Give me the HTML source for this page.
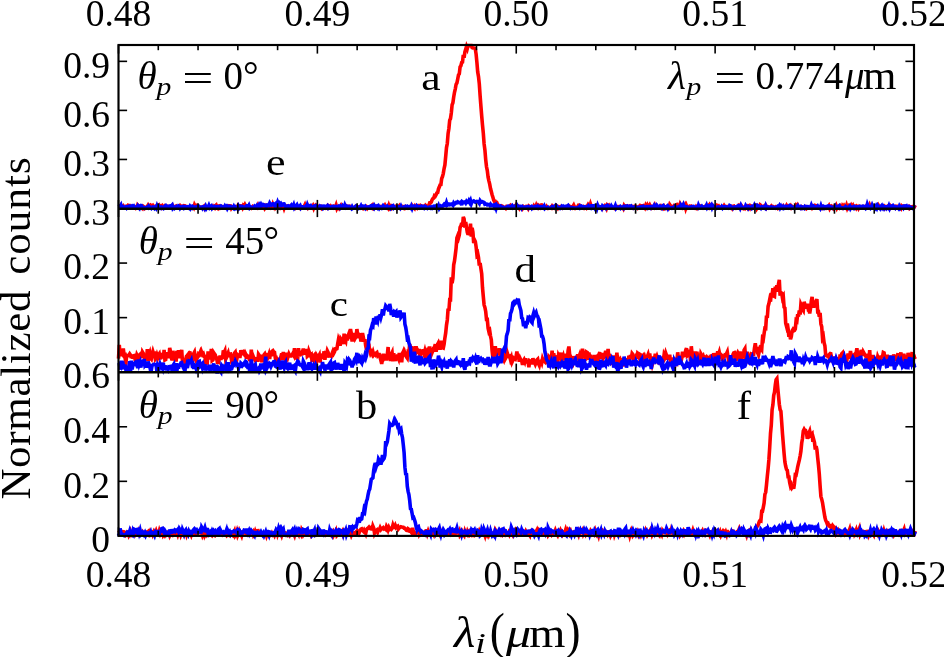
<!DOCTYPE html>
<html><head><meta charset="utf-8"><title>Normalized counts</title>
<style>html,body{margin:0;padding:0;background:#fff;overflow:hidden}svg{display:block}text{font-family:"Liberation Serif",serif;fill:#000}</style>
</head><body>
<svg width="944" height="657" viewBox="0 0 944 657">
<rect width="944" height="657" fill="#fff"/>
<g>
<polyline points="118.5,207.0 119.3,207.3 120.1,207.1 120.9,205.7 121.7,207.2 122.5,207.0 123.3,206.0 124.1,207.3 124.9,207.1 125.7,206.5 126.5,206.3 127.3,206.5 128.1,205.4 128.9,205.9 129.7,205.6 130.5,206.5 131.3,206.7 132.1,206.6 132.9,206.5 133.7,206.9 134.5,207.2 135.3,206.8 136.1,208.2 136.9,207.7 137.7,205.0 138.5,205.8 139.3,206.9 140.1,206.7 140.9,207.5 141.7,207.5 142.5,208.3 143.3,206.4 144.1,207.0 144.9,208.3 145.7,207.7 146.5,207.4 147.3,206.5 148.1,205.2 148.9,206.5 149.7,205.9 150.5,205.1 151.3,205.6 152.1,206.2 152.9,205.5 153.7,206.6 154.5,206.6 155.3,206.8 156.1,206.2 156.9,206.9 157.7,207.0 158.5,206.9 159.3,205.6 160.1,206.8 160.9,206.2 161.7,207.4 162.5,206.1 163.3,207.4 164.1,206.7 164.9,205.8 165.7,206.6 166.5,207.0 167.3,207.4 168.1,206.4 168.9,206.6 169.7,207.4 170.5,207.1 171.3,207.7 172.1,207.9 172.9,205.8 173.7,207.0 174.5,207.7 175.3,206.7 176.1,206.2 176.9,207.2 177.7,207.0 178.5,207.6 179.3,206.8 180.1,205.7 180.9,206.6 181.7,206.4 182.5,207.6 183.3,206.9 184.1,205.7 184.9,205.9 185.7,207.6 186.5,207.7 187.3,206.7 188.1,206.9 188.9,207.3 189.7,207.1 190.5,207.3 191.3,206.8 192.1,206.4 192.9,206.3 193.7,207.5 194.5,204.9 195.3,206.4 196.1,206.8 196.9,205.8 197.7,207.1 198.5,206.7 199.3,207.6 200.1,207.1 200.9,207.6 201.7,208.0 202.5,207.3 203.3,206.7 204.1,206.1 204.9,208.3 205.7,207.3 206.5,206.9 207.3,207.4 208.1,207.2 208.9,207.7 209.7,207.1 210.5,207.1 211.3,206.4 212.1,207.4 212.9,206.4 213.7,207.6 214.5,208.2 215.3,205.9 216.1,205.2 216.9,207.6 217.7,208.3 218.5,206.2 219.3,205.9 220.1,207.4 220.9,206.3 221.7,206.5 222.5,206.7 223.3,207.5 224.1,206.9 224.9,207.6 225.7,207.0 226.5,206.4 227.3,206.8 228.1,206.1 228.9,206.8 229.7,205.8 230.5,205.9 231.3,208.1 232.1,206.9 232.9,206.9 233.7,207.7 234.5,206.8 235.3,207.0 236.1,207.4 236.9,207.1 237.7,205.8 238.5,207.6 239.3,206.0 240.1,205.8 240.9,205.8 241.7,206.1 242.5,207.6 243.3,205.5 244.1,206.3 244.9,204.7 245.7,206.3 246.5,207.1 247.3,206.6 248.1,206.6 248.9,207.5 249.7,207.9 250.5,208.0 251.3,208.3 252.1,207.5 252.9,206.4 253.7,206.8 254.5,206.8 255.3,206.9 256.1,206.8 256.9,207.1 257.7,205.5 258.5,207.7 259.3,207.1 260.1,206.3 260.9,207.6 261.7,207.9 262.5,207.2 263.3,206.9 264.1,206.1 264.9,208.3 265.7,207.3 266.5,205.6 267.3,206.2 268.1,206.9 268.9,205.8 269.7,206.9 270.5,206.6 271.3,208.1 272.1,207.8 272.9,204.8 273.7,206.8 274.5,205.7 275.3,207.7 276.1,206.6 276.9,206.8 277.7,205.6 278.5,207.9 279.3,208.2 280.1,205.6 280.9,206.7 281.7,206.1 282.5,206.5 283.3,205.6 284.1,208.1 284.9,205.9 285.7,206.5 286.5,207.0 287.3,206.1 288.1,206.5 288.9,206.6 289.7,206.9 290.5,206.0 291.3,206.6 292.1,207.0 292.9,207.0 293.7,207.4 294.5,207.0 295.3,207.9 296.1,206.9 296.9,207.2 297.7,206.7 298.5,207.1 299.3,206.5 300.1,207.7 300.9,206.5 301.7,206.7 302.5,207.3 303.3,207.3 304.1,206.5 304.9,204.9 305.7,207.1 306.5,206.8 307.3,205.6 308.1,207.5 308.9,206.4 309.7,205.9 310.5,207.0 311.3,206.6 312.1,207.0 312.9,205.8 313.7,208.0 314.5,206.0 315.3,205.3 316.1,206.9 316.9,206.2 317.7,206.9 318.5,206.4 319.3,206.9 320.1,207.6 320.9,206.9 321.7,208.3 322.5,207.5 323.3,207.2 324.1,207.9 324.9,208.1 325.7,207.1 326.5,206.6 327.3,207.5 328.1,205.5 328.9,206.1 329.7,206.8 330.5,206.0 331.3,207.2 332.1,207.1 332.9,207.7 333.7,206.4 334.5,206.8 335.3,207.4 336.1,205.2 336.9,208.3 337.7,206.8 338.5,206.7 339.3,208.2 340.1,207.0 340.9,205.7 341.7,207.6 342.5,207.4 343.3,206.0 344.1,206.3 344.9,206.7 345.7,205.9 346.5,207.0 347.3,206.8 348.1,206.2 348.9,206.2 349.7,207.1 350.5,206.6 351.3,207.7 352.1,207.2 352.9,207.9 353.7,207.7 354.5,207.6 355.3,206.7 356.1,207.7 356.9,208.3 357.7,207.2 358.5,206.8 359.3,207.0 360.1,206.8 360.9,206.5 361.7,207.2 362.5,206.7 363.3,208.1 364.1,207.2 364.9,207.6 365.7,208.0 366.5,207.0 367.3,208.3 368.1,207.2 368.9,206.9 369.7,207.0 370.5,207.0 371.3,206.0 372.1,207.3 372.9,205.7 373.7,207.6 374.5,206.5 375.3,206.1 376.1,206.0 376.9,206.4 377.7,206.5 378.5,206.1 379.3,206.5 380.1,207.2 380.9,206.6 381.7,207.5 382.5,207.5 383.3,206.3 384.1,206.4 384.9,205.2 385.7,206.7 386.5,206.5 387.3,207.3 388.1,208.3 388.9,205.6 389.7,207.7 390.5,206.5 391.3,207.7 392.1,206.0 392.9,206.5 393.7,207.0 394.5,207.5 395.3,206.8 396.1,206.1 396.9,206.2 397.7,207.6 398.5,206.6 399.3,205.7 400.1,207.5 400.9,207.3 401.7,207.9 402.5,207.0 403.3,207.9 404.1,207.0 404.9,208.1 405.7,207.1 406.5,208.0 407.3,208.2 408.1,206.9 408.9,207.2 409.7,206.8 410.5,207.7 411.3,207.7 412.1,205.9 412.9,207.2 413.7,207.4 414.5,208.3 415.3,206.0 416.1,206.8 416.9,207.7 417.7,205.8 418.5,205.6 419.3,207.1 420.1,207.4 420.9,205.9 421.7,206.7 422.5,206.3 423.3,207.5 424.1,206.7 424.9,207.3 425.7,205.5 426.5,206.2 427.3,205.9 428.1,206.4 428.9,205.1 429.7,202.9 430.5,202.9 431.3,202.0 432.1,199.8 432.9,198.6 433.7,198.1 434.5,195.7 435.3,196.2 436.1,194.8 436.9,192.9 437.7,192.5 438.5,188.9 439.3,187.1 440.1,184.9 440.9,184.6 441.7,178.4 442.5,176.6 443.3,173.3 444.1,168.5 444.9,165.0 445.7,156.4 446.5,147.6 447.3,143.5 448.1,133.4 448.9,128.5 449.7,120.2 450.5,118.6 451.3,113.0 452.1,104.9 452.9,102.7 453.7,97.0 454.5,92.3 455.3,88.8 456.1,84.3 456.9,83.0 457.7,79.2 458.5,75.0 459.3,73.9 460.1,66.9 460.9,65.7 461.7,62.6 462.5,62.2 463.3,54.9 464.1,57.8 464.9,51.8 465.7,49.3 466.5,46.6 467.3,48.7 468.1,45.6 468.9,45.6 469.7,45.6 470.5,45.6 471.3,45.6 472.1,47.7 472.9,48.0 473.7,48.0 474.5,48.1 475.3,48.9 476.1,54.1 476.9,62.4 477.7,71.9 478.5,76.6 479.3,83.9 480.1,95.6 480.9,106.0 481.7,116.0 482.5,125.1 483.3,133.1 484.1,143.9 484.9,149.9 485.7,159.6 486.5,166.8 487.3,170.6 488.1,177.1 488.9,180.8 489.7,184.1 490.5,188.5 491.3,191.5 492.1,194.7 492.9,197.3 493.7,200.0 494.5,201.6 495.3,201.5 496.1,203.1 496.9,202.8 497.7,204.7 498.5,205.5 499.3,205.5 500.1,206.1 500.9,206.5 501.7,205.8 502.5,206.2 503.3,206.9 504.1,207.6 504.9,207.5 505.7,208.3 506.5,206.8 507.3,207.5 508.1,207.5 508.9,206.7 509.7,205.9 510.5,205.3 511.3,206.3 512.1,207.0 512.9,206.5 513.7,206.5 514.5,206.0 515.3,206.9 516.1,205.3 516.9,207.5 517.7,207.8 518.5,206.9 519.3,208.3 520.1,206.7 520.9,206.9 521.7,207.0 522.5,208.3 523.3,206.8 524.1,207.7 524.9,207.9 525.7,207.8 526.5,206.5 527.3,206.9 528.1,208.3 528.9,206.2 529.7,206.8 530.5,207.4 531.3,208.1 532.1,207.7 532.9,207.9 533.7,206.3 534.5,207.9 535.3,207.4 536.1,205.5 536.9,207.8 537.7,208.1 538.5,205.7 539.3,206.5 540.1,207.3 540.9,205.1 541.7,205.0 542.5,205.7 543.3,206.4 544.1,206.6 544.9,207.4 545.7,207.5 546.5,206.4 547.3,207.5 548.1,208.3 548.9,208.0 549.7,208.0 550.5,207.2 551.3,207.8 552.1,206.3 552.9,207.6 553.7,206.8 554.5,207.8 555.3,207.0 556.1,206.0 556.9,207.0 557.7,208.1 558.5,206.5 559.3,206.7 560.1,206.8 560.9,206.5 561.7,208.2 562.5,208.3 563.3,208.1 564.1,207.5 564.9,207.2 565.7,207.2 566.5,206.7 567.3,208.0 568.1,207.8 568.9,207.5 569.7,206.3 570.5,206.9 571.3,206.8 572.1,207.6 572.9,206.4 573.7,205.1 574.5,206.9 575.3,208.1 576.1,207.4 576.9,207.4 577.7,206.9 578.5,205.1 579.3,205.0 580.1,205.5 580.9,206.4 581.7,206.7 582.5,207.3 583.3,206.7 584.1,207.8 584.9,206.8 585.7,206.6 586.5,207.7 587.3,206.2 588.1,204.7 588.9,205.9 589.7,206.7 590.5,204.1 591.3,206.4 592.1,206.7 592.9,205.8 593.7,205.8 594.5,206.7 595.3,206.7 596.1,208.3 596.9,207.3 597.7,205.6 598.5,206.2 599.3,207.4 600.1,207.8 600.9,206.7 601.7,206.6 602.5,208.0 603.3,206.4 604.1,206.3 604.9,205.5 605.7,206.3 606.5,208.1 607.3,205.3 608.1,206.2 608.9,205.4 609.7,206.8 610.5,207.3 611.3,206.6 612.1,207.6 612.9,207.7 613.7,207.4 614.5,208.3 615.3,207.6 616.1,206.9 616.9,206.6 617.7,206.6 618.5,207.7 619.3,207.1 620.1,208.3 620.9,208.3 621.7,207.0 622.5,207.0 623.3,208.3 624.1,205.7 624.9,206.9 625.7,207.4 626.5,206.0 627.3,206.1 628.1,206.2 628.9,206.9 629.7,206.3 630.5,206.8 631.3,207.0 632.1,206.7 632.9,207.6 633.7,206.5 634.5,206.3 635.3,206.1 636.1,206.3 636.9,207.2 637.7,208.1 638.5,207.4 639.3,206.4 640.1,205.5 640.9,205.9 641.7,205.9 642.5,205.9 643.3,205.6 644.1,206.4 644.9,207.7 645.7,205.4 646.5,206.9 647.3,205.3 648.1,207.1 648.9,206.3 649.7,205.0 650.5,206.7 651.3,207.8 652.1,206.8 652.9,207.5 653.7,206.6 654.5,205.2 655.3,207.5 656.1,206.9 656.9,206.2 657.7,207.5 658.5,207.3 659.3,206.7 660.1,207.6 660.9,206.4 661.7,207.7 662.5,206.8 663.3,208.0 664.1,206.7 664.9,208.3 665.7,207.8 666.5,208.2 667.3,206.3 668.1,206.3 668.9,207.3 669.7,204.6 670.5,205.8 671.3,207.2 672.1,206.9 672.9,207.2 673.7,206.1 674.5,206.9 675.3,205.7 676.1,204.9 676.9,204.5 677.7,205.5 678.5,205.9 679.3,206.3 680.1,204.0 680.9,205.5 681.7,207.0 682.5,208.0 683.3,207.4 684.1,206.8 684.9,205.3 685.7,208.3 686.5,205.9 687.3,208.0 688.1,207.4 688.9,206.5 689.7,206.1 690.5,206.8 691.3,206.3 692.1,207.4 692.9,207.1 693.7,207.7 694.5,208.2 695.3,208.3 696.1,206.8 696.9,207.9 697.7,206.5 698.5,206.3 699.3,206.5 700.1,206.2 700.9,207.7 701.7,207.8 702.5,208.1 703.3,207.0 704.1,207.3 704.9,206.7 705.7,206.0 706.5,207.3 707.3,207.0 708.1,205.9 708.9,207.1 709.7,205.3 710.5,206.8 711.3,206.5 712.1,206.4 712.9,205.9 713.7,207.3 714.5,207.0 715.3,207.6 716.1,206.4 716.9,205.4 717.7,206.2 718.5,205.8 719.3,207.2 720.1,207.8 720.9,207.2 721.7,206.5 722.5,206.7 723.3,206.9 724.1,205.6 724.9,206.8 725.7,207.1 726.5,206.6 727.3,206.6 728.1,206.8 728.9,206.5 729.7,206.3 730.5,207.6 731.3,206.9 732.1,208.2 732.9,206.3 733.7,206.1 734.5,208.2 735.3,208.3 736.1,206.9 736.9,206.6 737.7,207.3 738.5,205.9 739.3,206.9 740.1,205.7 740.9,207.3 741.7,206.1 742.5,207.3 743.3,208.3 744.1,207.5 744.9,208.3 745.7,207.0 746.5,206.8 747.3,206.2 748.1,208.0 748.9,206.9 749.7,208.0 750.5,205.7 751.3,206.2 752.1,206.5 752.9,207.6 753.7,208.0 754.5,206.3 755.3,206.0 756.1,205.6 756.9,208.3 757.7,207.0 758.5,206.4 759.3,206.8 760.1,204.9 760.9,205.5 761.7,207.4 762.5,207.0 763.3,206.8 764.1,206.1 764.9,207.6 765.7,208.3 766.5,206.3 767.3,207.4 768.1,207.0 768.9,207.8 769.7,207.2 770.5,206.9 771.3,206.0 772.1,207.1 772.9,206.7 773.7,207.3 774.5,207.2 775.3,207.8 776.1,206.9 776.9,207.4 777.7,208.2 778.5,207.2 779.3,207.0 780.1,207.7 780.9,207.4 781.7,207.1 782.5,207.0 783.3,206.0 784.1,207.0 784.9,207.5 785.7,207.2 786.5,205.6 787.3,207.1 788.1,206.1 788.9,206.6 789.7,206.7 790.5,205.8 791.3,207.5 792.1,206.4 792.9,206.9 793.7,207.0 794.5,207.5 795.3,207.5 796.1,205.5 796.9,206.7 797.7,205.3 798.5,206.8 799.3,207.5 800.1,207.6 800.9,208.1 801.7,206.9 802.5,207.6 803.3,207.3 804.1,207.9 804.9,208.3 805.7,207.2 806.5,208.3 807.3,207.4 808.1,207.1 808.9,207.6 809.7,207.9 810.5,207.5 811.3,206.3 812.1,207.8 812.9,206.6 813.7,207.8 814.5,207.6 815.3,205.5 816.1,205.7 816.9,206.0 817.7,207.2 818.5,207.3 819.3,207.7 820.1,207.1 820.9,208.1 821.7,208.3 822.5,206.6 823.3,207.2 824.1,207.3 824.9,206.7 825.7,206.7 826.5,208.1 827.3,207.6 828.1,207.3 828.9,206.0 829.7,208.3 830.5,206.8 831.3,206.1 832.1,206.6 832.9,206.5 833.7,208.3 834.5,207.4 835.3,207.1 836.1,205.6 836.9,207.9 837.7,206.3 838.5,206.7 839.3,207.7 840.1,206.4 840.9,207.9 841.7,208.2 842.5,205.8 843.3,206.8 844.1,205.5 844.9,206.7 845.7,207.6 846.5,205.4 847.3,208.0 848.1,206.3 848.9,205.5 849.7,206.5 850.5,207.1 851.3,205.4 852.1,206.8 852.9,205.6 853.7,207.7 854.5,207.3 855.3,206.7 856.1,208.0 856.9,206.2 857.7,206.7 858.5,208.3 859.3,206.8 860.1,207.6 860.9,206.9 861.7,206.5 862.5,206.6 863.3,207.1 864.1,206.9 864.9,206.6 865.7,206.7 866.5,205.8 867.3,206.8 868.1,207.2 868.9,207.4 869.7,205.2 870.5,207.2 871.3,206.6 872.1,205.7 872.9,207.3 873.7,207.9 874.5,207.8 875.3,208.0 876.1,208.1 876.9,208.0 877.7,207.4 878.5,205.4 879.3,206.6 880.1,207.6 880.9,206.9 881.7,207.9 882.5,208.0 883.3,207.3 884.1,208.3 884.9,206.7 885.7,207.7 886.5,206.7 887.3,206.3 888.1,207.5 888.9,206.5 889.7,207.7 890.5,206.0 891.3,206.9 892.1,206.2 892.9,206.8 893.7,206.7 894.5,206.4 895.3,207.5 896.1,206.2 896.9,206.2 897.7,207.9 898.5,207.8 899.3,207.7 900.1,207.3 900.9,208.3 901.7,205.8 902.5,206.5 903.3,206.2 904.1,207.5 904.9,206.9 905.7,207.6 906.5,207.5 907.3,207.0 908.1,206.5 908.9,206.3 909.7,208.3 910.5,207.7 911.3,207.3 912.1,206.6 912.9,206.5 913.7,206.4 914.5,206.6 915.3,205.1" fill="none" stroke="#ff0000" stroke-width="3.6" stroke-linejoin="miter" stroke-miterlimit="4" stroke-linecap="butt"/>
<polyline points="118.5,206.8 119.3,206.3 120.1,206.6 120.9,205.2 121.7,208.3 122.5,208.3 123.3,207.1 124.1,208.0 124.9,207.7 125.7,207.0 126.5,208.0 127.3,206.7 128.1,206.6 128.9,206.2 129.7,206.9 130.5,206.4 131.3,206.8 132.1,206.0 132.9,206.8 133.7,206.1 134.5,207.5 135.3,207.3 136.1,207.6 136.9,207.5 137.7,206.0 138.5,207.4 139.3,208.3 140.1,205.8 140.9,205.5 141.7,205.8 142.5,208.0 143.3,207.8 144.1,208.3 144.9,207.7 145.7,207.4 146.5,207.3 147.3,206.9 148.1,207.6 148.9,206.1 149.7,206.9 150.5,207.6 151.3,208.3 152.1,207.2 152.9,206.9 153.7,207.1 154.5,208.3 155.3,207.3 156.1,208.3 156.9,206.0 157.7,208.2 158.5,208.3 159.3,206.6 160.1,207.6 160.9,208.2 161.7,207.2 162.5,207.7 163.3,208.3 164.1,206.8 164.9,206.3 165.7,205.7 166.5,206.9 167.3,206.3 168.1,206.4 168.9,206.5 169.7,207.1 170.5,205.9 171.3,205.9 172.1,205.1 172.9,208.2 173.7,207.3 174.5,208.3 175.3,207.4 176.1,206.8 176.9,207.7 177.7,207.2 178.5,205.9 179.3,206.3 180.1,208.1 180.9,207.0 181.7,207.1 182.5,206.6 183.3,206.5 184.1,208.0 184.9,207.2 185.7,206.8 186.5,207.1 187.3,206.8 188.1,207.3 188.9,208.0 189.7,206.6 190.5,208.3 191.3,207.0 192.1,207.8 192.9,206.6 193.7,207.2 194.5,207.3 195.3,206.9 196.1,206.8 196.9,206.6 197.7,206.5 198.5,206.0 199.3,206.9 200.1,207.5 200.9,207.5 201.7,207.1 202.5,208.3 203.3,206.9 204.1,206.6 204.9,208.3 205.7,206.4 206.5,208.2 207.3,206.9 208.1,207.4 208.9,205.5 209.7,207.6 210.5,206.7 211.3,206.0 212.1,208.1 212.9,207.1 213.7,206.9 214.5,206.4 215.3,206.9 216.1,206.7 216.9,207.4 217.7,207.3 218.5,206.5 219.3,206.7 220.1,206.6 220.9,206.0 221.7,206.7 222.5,206.9 223.3,207.4 224.1,207.7 224.9,206.1 225.7,207.3 226.5,206.5 227.3,208.3 228.1,206.8 228.9,207.5 229.7,206.3 230.5,206.5 231.3,207.3 232.1,207.1 232.9,207.9 233.7,206.5 234.5,208.2 235.3,207.2 236.1,208.3 236.9,207.6 237.7,208.3 238.5,206.1 239.3,207.5 240.1,206.2 240.9,206.5 241.7,206.8 242.5,206.5 243.3,207.0 244.1,207.4 244.9,207.5 245.7,206.9 246.5,205.9 247.3,206.2 248.1,206.8 248.9,205.4 249.7,207.7 250.5,206.8 251.3,207.2 252.1,208.0 252.9,207.8 253.7,207.0 254.5,206.2 255.3,207.2 256.1,207.1 256.9,205.8 257.7,207.1 258.5,206.4 259.3,204.7 260.1,205.9 260.9,204.4 261.7,206.1 262.5,205.8 263.3,204.6 264.1,205.0 264.9,205.6 265.7,205.3 266.5,206.7 267.3,205.8 268.1,205.0 268.9,205.4 269.7,203.3 270.5,204.7 271.3,205.0 272.1,204.0 272.9,203.8 273.7,204.8 274.5,205.6 275.3,203.9 276.1,203.2 276.9,204.9 277.7,202.3 278.5,204.2 279.3,203.2 280.1,204.8 280.9,203.8 281.7,205.4 282.5,205.0 283.3,204.0 284.1,203.9 284.9,205.5 285.7,206.9 286.5,206.2 287.3,206.3 288.1,205.9 288.9,206.4 289.7,206.3 290.5,206.1 291.3,205.2 292.1,206.8 292.9,206.9 293.7,205.0 294.5,207.9 295.3,206.9 296.1,205.9 296.9,204.9 297.7,207.0 298.5,207.0 299.3,206.4 300.1,205.6 300.9,207.8 301.7,206.7 302.5,206.7 303.3,208.3 304.1,208.3 304.9,207.5 305.7,206.4 306.5,207.2 307.3,204.8 308.1,206.8 308.9,206.2 309.7,205.9 310.5,205.6 311.3,207.3 312.1,206.7 312.9,206.8 313.7,207.2 314.5,205.8 315.3,205.7 316.1,205.5 316.9,206.4 317.7,207.4 318.5,207.1 319.3,207.5 320.1,206.1 320.9,206.7 321.7,206.3 322.5,206.2 323.3,208.3 324.1,207.7 324.9,206.3 325.7,206.5 326.5,207.2 327.3,206.1 328.1,207.6 328.9,206.3 329.7,207.0 330.5,207.1 331.3,207.4 332.1,206.5 332.9,206.4 333.7,206.5 334.5,206.6 335.3,206.6 336.1,206.5 336.9,207.8 337.7,207.5 338.5,206.6 339.3,207.7 340.1,206.5 340.9,208.1 341.7,207.5 342.5,206.1 343.3,207.6 344.1,207.9 344.9,205.2 345.7,207.0 346.5,207.5 347.3,206.3 348.1,206.6 348.9,206.5 349.7,207.7 350.5,207.4 351.3,208.3 352.1,206.8 352.9,208.2 353.7,207.7 354.5,207.8 355.3,206.7 356.1,206.0 356.9,206.7 357.7,207.6 358.5,208.2 359.3,207.2 360.1,207.4 360.9,206.0 361.7,208.0 362.5,207.8 363.3,206.5 364.1,207.0 364.9,206.4 365.7,208.3 366.5,207.5 367.3,207.0 368.1,207.1 368.9,207.3 369.7,206.6 370.5,206.1 371.3,205.8 372.1,205.5 372.9,207.6 373.7,208.3 374.5,206.0 375.3,207.3 376.1,207.1 376.9,206.3 377.7,207.6 378.5,206.4 379.3,208.1 380.1,206.9 380.9,207.3 381.7,208.1 382.5,207.0 383.3,205.6 384.1,206.3 384.9,207.2 385.7,206.8 386.5,207.5 387.3,206.4 388.1,207.5 388.9,207.8 389.7,207.2 390.5,208.3 391.3,206.9 392.1,206.1 392.9,205.7 393.7,207.9 394.5,207.1 395.3,207.9 396.1,207.6 396.9,208.1 397.7,208.1 398.5,206.8 399.3,207.1 400.1,208.1 400.9,206.4 401.7,208.3 402.5,208.3 403.3,208.2 404.1,207.2 404.9,207.7 405.7,206.6 406.5,207.3 407.3,206.5 408.1,207.2 408.9,206.7 409.7,207.5 410.5,208.1 411.3,206.2 412.1,208.3 412.9,206.2 413.7,206.0 414.5,207.5 415.3,207.2 416.1,207.5 416.9,205.8 417.7,206.6 418.5,206.7 419.3,207.6 420.1,206.7 420.9,207.4 421.7,206.2 422.5,206.6 423.3,206.6 424.1,207.7 424.9,206.3 425.7,206.6 426.5,207.6 427.3,208.3 428.1,207.4 428.9,207.3 429.7,207.0 430.5,207.9 431.3,207.2 432.1,208.1 432.9,207.2 433.7,206.2 434.5,206.4 435.3,206.1 436.1,206.0 436.9,207.9 437.7,207.6 438.5,205.8 439.3,208.3 440.1,207.1 440.9,206.0 441.7,206.6 442.5,206.4 443.3,205.3 444.1,204.3 444.9,205.3 445.7,205.4 446.5,202.8 447.3,205.3 448.1,204.8 448.9,204.2 449.7,204.8 450.5,204.6 451.3,204.0 452.1,204.4 452.9,205.2 453.7,203.1 454.5,204.2 455.3,203.5 456.1,202.5 456.9,202.7 457.7,201.8 458.5,202.2 459.3,202.8 460.1,203.0 460.9,202.2 461.7,205.2 462.5,201.9 463.3,202.4 464.1,202.1 464.9,201.9 465.7,203.0 466.5,201.4 467.3,202.4 468.1,202.4 468.9,200.7 469.7,202.3 470.5,200.6 471.3,203.6 472.1,201.4 472.9,201.3 473.7,200.9 474.5,201.6 475.3,202.1 476.1,201.7 476.9,201.4 477.7,201.7 478.5,202.3 479.3,203.4 480.1,200.7 480.9,201.8 481.7,202.0 482.5,201.7 483.3,202.2 484.1,202.5 484.9,204.3 485.7,204.1 486.5,204.1 487.3,204.9 488.1,204.6 488.9,204.6 489.7,205.4 490.5,204.3 491.3,205.6 492.1,205.7 492.9,205.2 493.7,205.0 494.5,207.1 495.3,205.9 496.1,208.3 496.9,205.6 497.7,206.9 498.5,206.1 499.3,206.8 500.1,207.4 500.9,206.3 501.7,206.9 502.5,207.1 503.3,207.3 504.1,207.5 504.9,207.8 505.7,207.6 506.5,207.3 507.3,206.8 508.1,206.2 508.9,206.3 509.7,206.5 510.5,207.4 511.3,206.5 512.1,205.7 512.9,207.2 513.7,206.1 514.5,206.2 515.3,206.8 516.1,207.4 516.9,205.1 517.7,206.3 518.5,207.1 519.3,206.6 520.1,206.4 520.9,206.5 521.7,208.2 522.5,206.9 523.3,207.8 524.1,207.9 524.9,207.2 525.7,207.6 526.5,207.0 527.3,206.7 528.1,206.5 528.9,208.0 529.7,207.2 530.5,207.0 531.3,206.5 532.1,208.3 532.9,207.5 533.7,207.1 534.5,206.7 535.3,206.4 536.1,207.9 536.9,207.9 537.7,206.7 538.5,208.3 539.3,208.2 540.1,206.7 540.9,206.8 541.7,206.7 542.5,207.3 543.3,207.2 544.1,206.0 544.9,208.3 545.7,207.6 546.5,208.3 547.3,208.3 548.1,207.4 548.9,208.2 549.7,208.3 550.5,208.2 551.3,207.6 552.1,206.7 552.9,207.2 553.7,206.8 554.5,206.7 555.3,205.8 556.1,207.4 556.9,206.4 557.7,207.3 558.5,207.4 559.3,207.6 560.1,208.3 560.9,207.6 561.7,206.5 562.5,207.5 563.3,206.5 564.1,207.3 564.9,206.5 565.7,206.3 566.5,206.4 567.3,206.2 568.1,205.5 568.9,206.9 569.7,207.3 570.5,208.2 571.3,207.5 572.1,207.5 572.9,208.0 573.7,207.9 574.5,208.3 575.3,208.3 576.1,208.0 576.9,208.3 577.7,208.3 578.5,207.4 579.3,208.0 580.1,206.3 580.9,207.0 581.7,206.3 582.5,206.8 583.3,206.8 584.1,207.1 584.9,206.8 585.7,207.2 586.5,207.2 587.3,206.9 588.1,206.0 588.9,208.0 589.7,208.2 590.5,206.7 591.3,207.5 592.1,205.7 592.9,205.7 593.7,206.8 594.5,208.0 595.3,206.0 596.1,206.4 596.9,208.3 597.7,205.5 598.5,207.4 599.3,207.2 600.1,206.7 600.9,207.0 601.7,208.3 602.5,206.0 603.3,206.8 604.1,207.0 604.9,206.5 605.7,206.1 606.5,208.2 607.3,207.3 608.1,205.7 608.9,206.5 609.7,207.4 610.5,207.4 611.3,205.9 612.1,207.2 612.9,207.3 613.7,207.6 614.5,207.4 615.3,205.6 616.1,208.3 616.9,207.3 617.7,208.3 618.5,208.3 619.3,207.1 620.1,206.6 620.9,208.3 621.7,207.8 622.5,207.4 623.3,206.8 624.1,208.3 624.9,207.5 625.7,206.4 626.5,206.6 627.3,206.1 628.1,207.2 628.9,206.8 629.7,206.3 630.5,207.3 631.3,206.4 632.1,207.7 632.9,208.1 633.7,207.0 634.5,206.8 635.3,207.2 636.1,208.1 636.9,207.5 637.7,207.6 638.5,207.2 639.3,207.2 640.1,207.4 640.9,206.6 641.7,206.5 642.5,206.9 643.3,206.3 644.1,207.1 644.9,207.6 645.7,207.1 646.5,206.6 647.3,206.7 648.1,208.3 648.9,208.0 649.7,206.5 650.5,206.5 651.3,208.3 652.1,208.1 652.9,206.9 653.7,207.3 654.5,205.4 655.3,206.5 656.1,207.2 656.9,205.4 657.7,206.3 658.5,207.5 659.3,207.8 660.1,206.4 660.9,207.2 661.7,208.0 662.5,206.1 663.3,205.5 664.1,206.5 664.9,206.6 665.7,207.9 666.5,207.1 667.3,206.3 668.1,208.3 668.9,206.9 669.7,207.7 670.5,208.0 671.3,208.3 672.1,207.7 672.9,208.2 673.7,207.7 674.5,206.6 675.3,207.5 676.1,207.4 676.9,207.3 677.7,207.5 678.5,207.0 679.3,208.3 680.1,208.3 680.9,205.4 681.7,206.7 682.5,206.0 683.3,204.5 684.1,206.9 684.9,206.4 685.7,206.6 686.5,206.7 687.3,208.2 688.1,208.2 688.9,207.5 689.7,207.7 690.5,206.9 691.3,207.1 692.1,206.6 692.9,207.2 693.7,206.6 694.5,207.5 695.3,207.7 696.1,207.3 696.9,208.1 697.7,208.3 698.5,205.4 699.3,207.3 700.1,206.7 700.9,206.9 701.7,206.2 702.5,207.3 703.3,207.3 704.1,207.1 704.9,207.3 705.7,207.0 706.5,205.3 707.3,207.7 708.1,206.7 708.9,206.1 709.7,206.7 710.5,205.8 711.3,204.9 712.1,207.4 712.9,205.6 713.7,206.4 714.5,206.8 715.3,208.0 716.1,208.3 716.9,207.4 717.7,207.0 718.5,206.9 719.3,208.3 720.1,208.3 720.9,208.0 721.7,206.7 722.5,208.0 723.3,206.8 724.1,206.8 724.9,206.6 725.7,207.2 726.5,207.0 727.3,207.7 728.1,208.1 728.9,207.5 729.7,205.6 730.5,206.1 731.3,207.6 732.1,207.4 732.9,208.3 733.7,207.1 734.5,207.0 735.3,207.9 736.1,208.0 736.9,206.8 737.7,207.2 738.5,205.9 739.3,206.3 740.1,208.0 740.9,205.7 741.7,207.5 742.5,207.6 743.3,207.8 744.1,208.0 744.9,207.6 745.7,205.6 746.5,206.8 747.3,207.1 748.1,208.3 748.9,206.8 749.7,207.4 750.5,207.6 751.3,208.3 752.1,206.2 752.9,206.0 753.7,207.0 754.5,205.1 755.3,206.6 756.1,206.1 756.9,205.4 757.7,206.4 758.5,206.1 759.3,207.3 760.1,207.3 760.9,208.2 761.7,206.9 762.5,207.4 763.3,207.0 764.1,207.7 764.9,208.2 765.7,205.9 766.5,207.9 767.3,206.8 768.1,207.1 768.9,207.3 769.7,207.6 770.5,207.3 771.3,206.8 772.1,207.3 772.9,207.5 773.7,207.2 774.5,207.7 775.3,208.1 776.1,207.5 776.9,207.7 777.7,206.5 778.5,207.1 779.3,205.8 780.1,207.8 780.9,206.4 781.7,208.1 782.5,208.3 783.3,206.8 784.1,208.1 784.9,207.4 785.7,206.4 786.5,206.4 787.3,207.2 788.1,207.8 788.9,206.7 789.7,205.5 790.5,205.9 791.3,206.5 792.1,207.8 792.9,207.3 793.7,207.3 794.5,208.3 795.3,207.1 796.1,207.0 796.9,206.9 797.7,205.9 798.5,207.6 799.3,207.6 800.1,208.1 800.9,206.4 801.7,206.7 802.5,208.2 803.3,207.7 804.1,208.3 804.9,206.7 805.7,207.4 806.5,206.8 807.3,207.6 808.1,206.8 808.9,207.3 809.7,207.6 810.5,207.4 811.3,205.3 812.1,207.4 812.9,207.1 813.7,206.1 814.5,206.5 815.3,207.1 816.1,207.7 816.9,207.1 817.7,206.1 818.5,207.4 819.3,207.1 820.1,208.3 820.9,205.9 821.7,208.3 822.5,208.2 823.3,207.0 824.1,208.1 824.9,207.1 825.7,207.7 826.5,206.7 827.3,207.0 828.1,206.1 828.9,206.1 829.7,207.1 830.5,206.8 831.3,207.9 832.1,208.3 832.9,207.4 833.7,207.7 834.5,207.7 835.3,206.2 836.1,207.6 836.9,207.4 837.7,207.3 838.5,206.3 839.3,205.7 840.1,207.0 840.9,207.5 841.7,208.1 842.5,207.9 843.3,208.3 844.1,207.6 844.9,207.8 845.7,206.6 846.5,207.2 847.3,207.8 848.1,208.3 848.9,207.0 849.7,206.1 850.5,208.3 851.3,207.0 852.1,207.5 852.9,207.2 853.7,206.7 854.5,208.3 855.3,207.8 856.1,207.0 856.9,207.4 857.7,207.0 858.5,207.8 859.3,206.7 860.1,206.3 860.9,206.6 861.7,206.7 862.5,207.2 863.3,206.2 864.1,206.6 864.9,207.3 865.7,208.3 866.5,207.3 867.3,204.3 868.1,206.4 868.9,206.5 869.7,207.1 870.5,208.1 871.3,207.2 872.1,205.2 872.9,207.1 873.7,207.0 874.5,207.0 875.3,208.0 876.1,206.3 876.9,208.0 877.7,205.9 878.5,207.2 879.3,207.1 880.1,208.3 880.9,206.5 881.7,205.6 882.5,207.7 883.3,206.6 884.1,208.2 884.9,206.8 885.7,206.8 886.5,208.3 887.3,207.3 888.1,208.0 888.9,206.0 889.7,208.3 890.5,206.6 891.3,207.3 892.1,206.0 892.9,205.5 893.7,206.5 894.5,207.3 895.3,208.2 896.1,207.1 896.9,207.7 897.7,207.3 898.5,208.3 899.3,206.3 900.1,207.9 900.9,206.7 901.7,207.2 902.5,206.7 903.3,207.9 904.1,206.1 904.9,205.9 905.7,206.6 906.5,206.0 907.3,207.5 908.1,207.8 908.9,206.8 909.7,207.8 910.5,207.1 911.3,207.5 912.1,207.7 912.9,208.3 913.7,207.5 914.5,207.0 915.3,207.2" fill="none" stroke="#0000ff" stroke-width="3.6" stroke-linejoin="miter" stroke-miterlimit="4" stroke-linecap="butt"/>
<polyline points="118.5,358.7 119.3,344.8 120.1,356.1 120.9,353.1 121.7,352.9 122.5,354.1 123.3,348.4 124.1,355.2 124.9,352.6 125.7,365.8 126.5,357.3 127.3,355.6 128.1,355.6 128.9,355.2 129.7,353.8 130.5,355.0 131.3,358.1 132.1,354.9 132.9,358.7 133.7,355.7 134.5,355.5 135.3,361.0 136.1,358.8 136.9,354.8 137.7,356.3 138.5,358.1 139.3,360.8 140.1,354.4 140.9,353.6 141.7,357.7 142.5,352.0 143.3,353.3 144.1,357.5 144.9,358.5 145.7,357.8 146.5,360.3 147.3,349.1 148.1,360.9 148.9,354.9 149.7,352.9 150.5,358.2 151.3,359.1 152.1,354.6 152.9,351.5 153.7,354.1 154.5,353.7 155.3,358.7 156.1,357.4 156.9,354.9 157.7,357.5 158.5,354.8 159.3,353.7 160.1,357.9 160.9,357.8 161.7,354.7 162.5,354.2 163.3,358.5 164.1,350.0 164.9,359.9 165.7,359.5 166.5,352.1 167.3,356.9 168.1,353.4 168.9,358.1 169.7,347.9 170.5,351.6 171.3,357.9 172.1,360.3 172.9,350.9 173.7,354.8 174.5,357.5 175.3,355.1 176.1,361.6 176.9,351.0 177.7,355.0 178.5,350.2 179.3,358.2 180.1,354.2 180.9,354.0 181.7,349.8 182.5,362.4 183.3,360.0 184.1,360.1 184.9,362.1 185.7,359.3 186.5,356.2 187.3,355.4 188.1,354.4 188.9,361.1 189.7,351.5 190.5,354.2 191.3,355.9 192.1,357.0 192.9,358.4 193.7,353.6 194.5,352.1 195.3,357.0 196.1,359.9 196.9,358.6 197.7,357.1 198.5,354.1 199.3,354.8 200.1,352.7 200.9,356.3 201.7,352.3 202.5,354.5 203.3,353.7 204.1,356.3 204.9,356.4 205.7,364.9 206.5,361.6 207.3,362.1 208.1,351.5 208.9,356.9 209.7,356.7 210.5,359.3 211.3,348.8 212.1,360.6 212.9,360.0 213.7,352.7 214.5,353.9 215.3,355.0 216.1,358.1 216.9,359.8 217.7,363.9 218.5,356.5 219.3,358.9 220.1,355.6 220.9,359.8 221.7,356.0 222.5,358.8 223.3,350.3 224.1,352.7 224.9,350.9 225.7,359.1 226.5,357.5 227.3,354.7 228.1,352.9 228.9,357.0 229.7,354.2 230.5,354.1 231.3,358.6 232.1,364.4 232.9,356.5 233.7,356.0 234.5,353.2 235.3,352.2 236.1,356.9 236.9,358.9 237.7,355.0 238.5,355.7 239.3,356.4 240.1,356.4 240.9,350.3 241.7,353.2 242.5,353.5 243.3,352.4 244.1,353.8 244.9,352.4 245.7,354.0 246.5,358.8 247.3,355.7 248.1,356.4 248.9,358.3 249.7,357.6 250.5,361.3 251.3,349.6 252.1,358.7 252.9,355.6 253.7,357.6 254.5,359.4 255.3,360.6 256.1,360.0 256.9,357.2 257.7,361.7 258.5,354.3 259.3,355.5 260.1,359.0 260.9,354.6 261.7,362.3 262.5,358.3 263.3,361.8 264.1,354.8 264.9,353.8 265.7,355.7 266.5,356.7 267.3,353.3 268.1,356.5 268.9,354.3 269.7,359.0 270.5,351.0 271.3,356.1 272.1,351.2 272.9,350.6 273.7,352.0 274.5,352.3 275.3,357.9 276.1,361.1 276.9,359.5 277.7,361.6 278.5,364.0 279.3,359.6 280.1,358.9 280.9,356.9 281.7,353.3 282.5,360.1 283.3,351.9 284.1,359.5 284.9,357.5 285.7,360.2 286.5,356.7 287.3,352.8 288.1,356.5 288.9,353.9 289.7,355.6 290.5,356.0 291.3,356.0 292.1,354.9 292.9,353.4 293.7,355.0 294.5,348.1 295.3,354.5 296.1,350.7 296.9,358.3 297.7,358.4 298.5,348.2 299.3,355.0 300.1,354.9 300.9,351.1 301.7,355.3 302.5,351.9 303.3,348.6 304.1,353.2 304.9,353.0 305.7,352.7 306.5,348.9 307.3,356.3 308.1,355.6 308.9,351.0 309.7,353.1 310.5,355.3 311.3,354.6 312.1,361.9 312.9,358.0 313.7,355.6 314.5,354.8 315.3,356.9 316.1,364.2 316.9,355.8 317.7,357.1 318.5,356.6 319.3,355.1 320.1,362.6 320.9,353.8 321.7,358.7 322.5,355.9 323.3,356.4 324.1,351.4 324.9,359.8 325.7,353.9 326.5,354.6 327.3,350.7 328.1,352.3 328.9,356.1 329.7,356.0 330.5,355.9 331.3,356.3 332.1,353.3 332.9,351.3 333.7,353.4 334.5,351.9 335.3,349.1 336.1,349.2 336.9,348.8 337.7,343.9 338.5,339.4 339.3,341.6 340.1,345.7 340.9,338.9 341.7,340.0 342.5,341.0 343.3,344.0 344.1,333.7 344.9,340.2 345.7,341.5 346.5,334.4 347.3,340.4 348.1,335.8 348.9,333.6 349.7,335.1 350.5,329.1 351.3,333.3 352.1,341.7 352.9,333.0 353.7,341.6 354.5,333.9 355.3,337.9 356.1,336.4 356.9,329.1 357.7,334.8 358.5,338.0 359.3,334.5 360.1,334.9 360.9,341.6 361.7,336.8 362.5,333.1 363.3,337.0 364.1,341.8 364.9,339.3 365.7,345.7 366.5,349.6 367.3,346.2 368.1,343.6 368.9,344.5 369.7,350.7 370.5,353.5 371.3,352.0 372.1,353.8 372.9,351.8 373.7,355.0 374.5,354.0 375.3,354.8 376.1,353.1 376.9,352.5 377.7,355.4 378.5,354.4 379.3,354.5 380.1,357.5 380.9,354.6 381.7,364.1 382.5,358.9 383.3,353.9 384.1,357.9 384.9,356.4 385.7,354.0 386.5,360.4 387.3,354.9 388.1,347.0 388.9,359.4 389.7,354.9 390.5,361.0 391.3,354.2 392.1,352.5 392.9,361.3 393.7,353.3 394.5,357.3 395.3,361.0 396.1,357.1 396.9,356.3 397.7,356.8 398.5,358.7 399.3,352.9 400.1,357.3 400.9,355.9 401.7,362.3 402.5,353.7 403.3,351.8 404.1,356.2 404.9,353.2 405.7,355.8 406.5,356.9 407.3,358.1 408.1,352.0 408.9,352.5 409.7,344.1 410.5,349.5 411.3,356.6 412.1,348.7 412.9,348.8 413.7,346.7 414.5,352.5 415.3,351.5 416.1,346.2 416.9,351.9 417.7,351.0 418.5,353.7 419.3,349.0 420.1,357.4 420.9,353.2 421.7,351.3 422.5,350.7 423.3,350.7 424.1,353.7 424.9,350.7 425.7,353.9 426.5,352.2 427.3,356.7 428.1,354.6 428.9,352.4 429.7,346.6 430.5,352.9 431.3,354.5 432.1,352.5 432.9,350.8 433.7,347.9 434.5,347.2 435.3,344.1 436.1,351.6 436.9,347.5 437.7,344.1 438.5,342.6 439.3,344.6 440.1,349.7 440.9,345.9 441.7,340.8 442.5,347.8 443.3,348.1 444.1,344.3 444.9,337.9 445.7,332.9 446.5,325.1 447.3,320.0 448.1,308.7 448.9,310.9 449.7,299.7 450.5,299.8 451.3,277.2 452.1,283.1 452.9,278.4 453.7,264.8 454.5,260.9 455.3,254.7 456.1,248.1 456.9,237.9 457.7,235.8 458.5,237.9 459.3,235.0 460.1,227.4 460.9,225.9 461.7,223.1 462.5,226.7 463.3,216.8 464.1,218.8 464.9,227.7 465.7,222.1 466.5,227.1 467.3,232.3 468.1,234.8 468.9,227.3 469.7,235.2 470.5,223.6 471.3,236.6 472.1,227.8 472.9,232.1 473.7,243.0 474.5,239.9 475.3,241.5 476.1,246.8 476.9,254.5 477.7,253.3 478.5,257.4 479.3,265.5 480.1,263.1 480.9,268.5 481.7,273.6 482.5,287.5 483.3,296.5 484.1,305.0 484.9,307.4 485.7,311.4 486.5,319.4 487.3,319.4 488.1,328.1 488.9,331.7 489.7,330.6 490.5,336.1 491.3,339.8 492.1,350.8 492.9,357.9 493.7,351.4 494.5,352.6 495.3,346.1 496.1,353.4 496.9,354.1 497.7,350.1 498.5,355.2 499.3,348.3 500.1,354.4 500.9,355.2 501.7,351.8 502.5,357.7 503.3,359.2 504.1,352.3 504.9,352.3 505.7,358.1 506.5,356.6 507.3,353.0 508.1,355.6 508.9,356.5 509.7,356.1 510.5,359.6 511.3,357.5 512.1,362.0 512.9,360.2 513.7,358.1 514.5,358.8 515.3,359.3 516.1,356.6 516.9,351.5 517.7,357.9 518.5,355.2 519.3,361.7 520.1,358.4 520.9,360.1 521.7,360.7 522.5,364.8 523.3,360.8 524.1,359.5 524.9,361.6 525.7,358.4 526.5,361.7 527.3,361.5 528.1,362.0 528.9,367.2 529.7,360.8 530.5,361.3 531.3,361.8 532.1,364.3 532.9,358.3 533.7,360.8 534.5,362.5 535.3,364.3 536.1,362.3 536.9,359.9 537.7,359.1 538.5,363.7 539.3,365.4 540.1,361.9 540.9,361.2 541.7,363.0 542.5,358.8 543.3,360.9 544.1,361.0 544.9,361.8 545.7,359.2 546.5,355.4 547.3,362.1 548.1,363.4 548.9,356.6 549.7,357.5 550.5,356.9 551.3,359.6 552.1,350.7 552.9,360.2 553.7,353.2 554.5,358.7 555.3,356.6 556.1,356.9 556.9,357.4 557.7,362.1 558.5,355.5 559.3,357.1 560.1,356.8 560.9,352.6 561.7,360.8 562.5,359.0 563.3,356.5 564.1,360.2 564.9,353.8 565.7,357.2 566.5,362.0 567.3,360.3 568.1,350.4 568.9,346.5 569.7,355.1 570.5,362.7 571.3,357.9 572.1,359.6 572.9,361.6 573.7,356.2 574.5,359.6 575.3,360.2 576.1,357.9 576.9,357.4 577.7,354.4 578.5,357.8 579.3,355.7 580.1,360.8 580.9,365.2 581.7,354.7 582.5,348.7 583.3,353.4 584.1,356.4 584.9,357.8 585.7,358.3 586.5,352.1 587.3,352.6 588.1,359.7 588.9,352.4 589.7,358.5 590.5,354.8 591.3,358.5 592.1,359.6 592.9,360.5 593.7,361.1 594.5,354.9 595.3,358.6 596.1,357.5 596.9,359.0 597.7,362.1 598.5,355.4 599.3,353.5 600.1,353.6 600.9,355.3 601.7,358.8 602.5,353.1 603.3,358.1 604.1,356.7 604.9,354.6 605.7,350.8 606.5,355.9 607.3,357.7 608.1,349.0 608.9,358.5 609.7,360.3 610.5,357.1 611.3,358.6 612.1,364.8 612.9,360.8 613.7,355.5 614.5,359.7 615.3,359.2 616.1,360.1 616.9,352.7 617.7,362.9 618.5,359.2 619.3,361.5 620.1,360.1 620.9,363.3 621.7,360.0 622.5,359.8 623.3,363.4 624.1,366.3 624.9,360.8 625.7,365.6 626.5,361.7 627.3,358.4 628.1,362.9 628.9,355.6 629.7,359.8 630.5,355.0 631.3,358.2 632.1,353.5 632.9,354.5 633.7,360.8 634.5,357.4 635.3,357.6 636.1,356.0 636.9,358.5 637.7,353.1 638.5,353.7 639.3,356.9 640.1,354.5 640.9,355.0 641.7,356.9 642.5,356.0 643.3,355.2 644.1,360.6 644.9,358.4 645.7,361.5 646.5,357.6 647.3,356.7 648.1,354.6 648.9,358.2 649.7,353.4 650.5,359.7 651.3,362.8 652.1,365.5 652.9,362.8 653.7,356.4 654.5,358.9 655.3,353.7 656.1,358.3 656.9,356.3 657.7,358.7 658.5,364.1 659.3,359.5 660.1,364.7 660.9,360.1 661.7,357.0 662.5,361.0 663.3,360.9 664.1,354.6 664.9,356.3 665.7,353.0 666.5,355.3 667.3,359.5 668.1,356.9 668.9,357.1 669.7,354.8 670.5,361.6 671.3,362.8 672.1,362.5 672.9,361.7 673.7,357.7 674.5,367.4 675.3,360.8 676.1,359.5 676.9,361.0 677.7,352.3 678.5,359.3 679.3,357.7 680.1,359.0 680.9,362.2 681.7,358.4 682.5,351.7 683.3,355.2 684.1,355.7 684.9,355.3 685.7,350.2 686.5,348.3 687.3,355.8 688.1,355.2 688.9,353.6 689.7,349.5 690.5,361.1 691.3,346.3 692.1,354.2 692.9,362.2 693.7,354.7 694.5,357.1 695.3,351.5 696.1,359.9 696.9,351.8 697.7,357.2 698.5,356.9 699.3,353.7 700.1,360.7 700.9,353.7 701.7,355.1 702.5,357.7 703.3,356.3 704.1,358.8 704.9,360.5 705.7,357.3 706.5,356.6 707.3,357.6 708.1,357.8 708.9,362.1 709.7,358.9 710.5,360.3 711.3,356.7 712.1,354.5 712.9,360.0 713.7,353.3 714.5,355.4 715.3,360.4 716.1,353.4 716.9,356.6 717.7,351.2 718.5,354.6 719.3,352.1 720.1,355.8 720.9,354.6 721.7,355.4 722.5,360.7 723.3,357.0 724.1,356.9 724.9,355.0 725.7,355.3 726.5,353.8 727.3,352.0 728.1,357.6 728.9,363.0 729.7,359.7 730.5,357.6 731.3,363.5 732.1,356.4 732.9,354.8 733.7,353.0 734.5,352.7 735.3,355.0 736.1,360.7 736.9,354.4 737.7,352.7 738.5,354.3 739.3,356.5 740.1,351.5 740.9,357.0 741.7,358.3 742.5,357.1 743.3,356.5 744.1,350.0 744.9,348.7 745.7,359.6 746.5,360.3 747.3,351.8 748.1,356.9 748.9,357.6 749.7,360.1 750.5,357.3 751.3,353.8 752.1,354.1 752.9,353.9 753.7,354.2 754.5,348.1 755.3,343.2 756.1,349.8 756.9,347.0 757.7,353.1 758.5,355.0 759.3,351.2 760.1,347.9 760.9,348.6 761.7,349.7 762.5,338.4 763.3,339.4 764.1,333.6 764.9,328.2 765.7,328.4 766.5,315.7 767.3,317.8 768.1,306.4 768.9,303.6 769.7,299.6 770.5,301.7 771.3,292.9 772.1,295.2 772.9,288.3 773.7,296.1 774.5,296.5 775.3,286.7 776.1,290.2 776.9,285.3 777.7,291.9 778.5,283.9 779.3,279.8 780.1,295.6 780.9,292.6 781.7,293.1 782.5,298.1 783.3,296.6 784.1,307.2 784.9,308.0 785.7,323.2 786.5,326.3 787.3,323.6 788.1,328.8 788.9,336.9 789.7,333.6 790.5,339.3 791.3,336.7 792.1,330.8 792.9,329.5 793.7,330.9 794.5,330.5 795.3,329.0 796.1,320.4 796.9,321.1 797.7,314.1 798.5,316.6 799.3,310.6 800.1,314.7 800.9,304.3 801.7,306.0 802.5,309.3 803.3,310.5 804.1,301.8 804.9,304.5 805.7,307.0 806.5,307.3 807.3,303.9 808.1,308.3 808.9,307.4 809.7,313.4 810.5,308.5 811.3,301.0 812.1,296.9 812.9,304.2 813.7,307.7 814.5,303.2 815.3,305.9 816.1,301.0 816.9,299.2 817.7,311.8 818.5,311.7 819.3,316.8 820.1,312.9 820.9,324.0 821.7,326.6 822.5,337.9 823.3,336.4 824.1,342.8 824.9,345.7 825.7,355.2 826.5,355.1 827.3,356.0 828.1,355.8 828.9,355.0 829.7,362.0 830.5,352.5 831.3,356.1 832.1,359.8 832.9,361.2 833.7,356.7 834.5,360.6 835.3,359.6 836.1,360.7 836.9,357.3 837.7,362.4 838.5,358.2 839.3,362.8 840.1,354.5 840.9,360.9 841.7,353.8 842.5,353.0 843.3,359.7 844.1,356.1 844.9,360.2 845.7,355.0 846.5,362.8 847.3,357.4 848.1,353.5 848.9,356.4 849.7,357.0 850.5,351.0 851.3,356.0 852.1,360.6 852.9,357.8 853.7,355.3 854.5,354.5 855.3,358.9 856.1,353.1 856.9,348.2 857.7,355.9 858.5,352.4 859.3,361.6 860.1,355.6 860.9,351.3 861.7,351.2 862.5,355.9 863.3,351.9 864.1,353.3 864.9,354.8 865.7,356.2 866.5,355.7 867.3,355.4 868.1,358.6 868.9,360.3 869.7,350.2 870.5,364.2 871.3,357.1 872.1,361.5 872.9,355.0 873.7,359.2 874.5,359.5 875.3,360.1 876.1,361.9 876.9,361.0 877.7,356.7 878.5,358.7 879.3,361.4 880.1,360.0 880.9,356.9 881.7,356.8 882.5,356.9 883.3,352.4 884.1,352.8 884.9,361.9 885.7,357.2 886.5,357.3 887.3,354.7 888.1,363.4 888.9,366.0 889.7,359.8 890.5,362.0 891.3,355.5 892.1,365.1 892.9,362.8 893.7,354.3 894.5,360.9 895.3,357.8 896.1,357.1 896.9,358.7 897.7,354.8 898.5,354.9 899.3,359.3 900.1,355.8 900.9,352.5 901.7,362.9 902.5,356.4 903.3,355.3 904.1,355.3 904.9,359.5 905.7,361.1 906.5,359.1 907.3,361.5 908.1,353.0 908.9,356.5 909.7,356.0 910.5,356.9 911.3,359.6 912.1,352.0 912.9,366.8 913.7,354.6 914.5,357.7 915.3,359.2" fill="none" stroke="#ff0000" stroke-width="3.6" stroke-linejoin="miter" stroke-miterlimit="4" stroke-linecap="butt"/>
<polyline points="118.5,362.2 119.3,363.0 120.1,369.5 120.9,366.8 121.7,360.7 122.5,366.4 123.3,365.2 124.1,369.1 124.9,364.5 125.7,368.8 126.5,368.3 127.3,371.6 128.1,367.4 128.9,367.6 129.7,361.3 130.5,371.8 131.3,360.6 132.1,369.3 132.9,365.4 133.7,363.7 134.5,363.2 135.3,362.4 136.1,364.6 136.9,364.6 137.7,368.0 138.5,359.3 139.3,364.5 140.1,362.5 140.9,367.6 141.7,359.9 142.5,362.7 143.3,363.7 144.1,359.0 144.9,365.3 145.7,364.2 146.5,366.2 147.3,366.3 148.1,361.6 148.9,364.0 149.7,366.0 150.5,370.2 151.3,370.2 152.1,365.5 152.9,364.8 153.7,364.2 154.5,364.2 155.3,364.5 156.1,365.2 156.9,371.2 157.7,364.9 158.5,366.2 159.3,367.9 160.1,364.4 160.9,366.7 161.7,366.9 162.5,368.6 163.3,362.6 164.1,370.0 164.9,366.5 165.7,366.7 166.5,368.6 167.3,368.3 168.1,369.6 168.9,366.8 169.7,366.9 170.5,367.4 171.3,365.1 172.1,371.2 172.9,365.6 173.7,364.4 174.5,371.9 175.3,366.5 176.1,363.2 176.9,371.3 177.7,364.6 178.5,368.7 179.3,363.5 180.1,366.6 180.9,362.9 181.7,362.6 182.5,365.0 183.3,367.7 184.1,368.9 184.9,371.9 185.7,363.8 186.5,368.1 187.3,363.4 188.1,364.5 188.9,360.9 189.7,361.2 190.5,362.1 191.3,360.4 192.1,364.8 192.9,364.0 193.7,368.9 194.5,364.9 195.3,365.5 196.1,368.3 196.9,365.7 197.7,363.4 198.5,361.6 199.3,361.3 200.1,366.6 200.9,365.9 201.7,364.7 202.5,368.0 203.3,365.5 204.1,368.6 204.9,364.2 205.7,370.5 206.5,367.0 207.3,367.4 208.1,368.2 208.9,366.3 209.7,366.4 210.5,371.0 211.3,368.1 212.1,364.9 212.9,368.2 213.7,363.3 214.5,371.6 215.3,366.3 216.1,366.6 216.9,371.9 217.7,371.9 218.5,367.9 219.3,368.8 220.1,370.8 220.9,371.9 221.7,365.6 222.5,366.7 223.3,369.0 224.1,367.2 224.9,368.5 225.7,369.4 226.5,365.4 227.3,367.3 228.1,362.2 228.9,368.6 229.7,371.9 230.5,365.1 231.3,369.9 232.1,367.6 232.9,363.3 233.7,363.3 234.5,364.3 235.3,361.4 236.1,363.1 236.9,363.4 237.7,366.0 238.5,368.0 239.3,363.2 240.1,367.9 240.9,363.3 241.7,364.1 242.5,365.6 243.3,364.6 244.1,363.4 244.9,364.4 245.7,361.5 246.5,362.1 247.3,364.7 248.1,368.8 248.9,365.5 249.7,371.8 250.5,368.0 251.3,359.5 252.1,366.0 252.9,371.0 253.7,366.3 254.5,365.5 255.3,364.6 256.1,370.0 256.9,370.0 257.7,369.1 258.5,368.2 259.3,370.7 260.1,369.1 260.9,363.6 261.7,369.0 262.5,366.0 263.3,365.1 264.1,367.9 264.9,364.7 265.7,356.6 266.5,369.0 267.3,367.4 268.1,364.0 268.9,363.3 269.7,364.8 270.5,362.1 271.3,365.8 272.1,364.0 272.9,363.4 273.7,361.6 274.5,361.5 275.3,366.1 276.1,366.6 276.9,365.0 277.7,363.3 278.5,361.7 279.3,365.7 280.1,369.6 280.9,360.8 281.7,368.9 282.5,360.5 283.3,365.5 284.1,367.7 284.9,364.3 285.7,362.6 286.5,367.4 287.3,368.2 288.1,363.3 288.9,368.8 289.7,362.6 290.5,369.9 291.3,365.8 292.1,365.9 292.9,367.3 293.7,366.4 294.5,369.5 295.3,370.9 296.1,365.3 296.9,363.2 297.7,361.2 298.5,361.8 299.3,364.3 300.1,364.9 300.9,364.8 301.7,365.4 302.5,366.8 303.3,361.3 304.1,362.9 304.9,369.1 305.7,368.6 306.5,364.7 307.3,370.3 308.1,365.8 308.9,366.7 309.7,362.2 310.5,369.5 311.3,366.4 312.1,368.9 312.9,367.7 313.7,365.3 314.5,366.7 315.3,369.4 316.1,365.4 316.9,367.0 317.7,368.4 318.5,369.5 319.3,369.4 320.1,371.0 320.9,365.6 321.7,368.3 322.5,362.0 323.3,365.8 324.1,365.9 324.9,370.5 325.7,367.8 326.5,364.7 327.3,367.9 328.1,367.8 328.9,364.7 329.7,363.4 330.5,362.2 331.3,371.9 332.1,366.4 332.9,369.9 333.7,363.0 334.5,362.5 335.3,366.0 336.1,366.2 336.9,369.5 337.7,363.0 338.5,365.8 339.3,369.4 340.1,364.6 340.9,369.8 341.7,364.1 342.5,367.3 343.3,367.6 344.1,371.1 344.9,363.2 345.7,364.5 346.5,366.3 347.3,360.4 348.1,361.7 348.9,359.3 349.7,360.4 350.5,363.3 351.3,362.9 352.1,367.5 352.9,363.7 353.7,363.7 354.5,359.1 355.3,357.8 356.1,359.7 356.9,352.8 357.7,363.3 358.5,356.8 359.3,356.0 360.1,357.2 360.9,361.9 361.7,363.1 362.5,358.7 363.3,360.5 364.1,359.0 364.9,355.6 365.7,357.9 366.5,355.3 367.3,347.6 368.1,349.5 368.9,337.0 369.7,337.5 370.5,330.3 371.3,328.2 372.1,325.1 372.9,326.0 373.7,318.1 374.5,320.3 375.3,324.5 376.1,316.5 376.9,318.7 377.7,320.7 378.5,315.8 379.3,318.8 380.1,314.3 380.9,317.4 381.7,314.4 382.5,309.2 383.3,315.4 384.1,310.2 384.9,309.2 385.7,305.8 386.5,306.8 387.3,307.7 388.1,308.1 388.9,311.3 389.7,303.9 390.5,308.0 391.3,315.1 392.1,312.4 392.9,311.9 393.7,316.7 394.5,312.0 395.3,312.7 396.1,311.8 396.9,317.5 397.7,315.2 398.5,311.0 399.3,315.4 400.1,310.4 400.9,317.4 401.7,316.3 402.5,315.2 403.3,315.2 404.1,312.7 404.9,324.1 405.7,327.2 406.5,332.3 407.3,338.8 408.1,338.2 408.9,342.8 409.7,345.1 410.5,347.6 411.3,361.7 412.1,356.7 412.9,358.4 413.7,362.3 414.5,351.6 415.3,361.9 416.1,361.8 416.9,358.7 417.7,363.1 418.5,355.6 419.3,361.6 420.1,365.3 420.9,356.7 421.7,358.7 422.5,362.6 423.3,362.4 424.1,361.2 424.9,363.3 425.7,362.2 426.5,358.0 427.3,363.0 428.1,359.9 428.9,357.4 429.7,356.5 430.5,367.2 431.3,363.8 432.1,369.4 432.9,359.6 433.7,362.5 434.5,364.9 435.3,363.0 436.1,364.7 436.9,362.8 437.7,361.4 438.5,355.7 439.3,359.6 440.1,367.5 440.9,364.8 441.7,366.9 442.5,362.5 443.3,363.6 444.1,361.7 444.9,364.6 445.7,363.7 446.5,365.5 447.3,368.6 448.1,360.7 448.9,365.2 449.7,359.2 450.5,366.4 451.3,361.1 452.1,361.9 452.9,362.8 453.7,367.5 454.5,362.1 455.3,360.7 456.1,359.6 456.9,364.8 457.7,361.5 458.5,361.7 459.3,363.2 460.1,364.3 460.9,360.9 461.7,364.1 462.5,366.4 463.3,358.2 464.1,367.4 464.9,369.7 465.7,362.7 466.5,366.4 467.3,361.3 468.1,365.3 468.9,362.3 469.7,363.0 470.5,358.6 471.3,358.4 472.1,359.7 472.9,357.8 473.7,359.0 474.5,360.1 475.3,358.1 476.1,361.7 476.9,364.4 477.7,355.1 478.5,362.8 479.3,359.5 480.1,359.2 480.9,358.4 481.7,359.6 482.5,359.3 483.3,363.0 484.1,358.5 484.9,364.9 485.7,359.0 486.5,362.5 487.3,363.0 488.1,357.1 488.9,362.8 489.7,366.4 490.5,359.7 491.3,361.9 492.1,359.3 492.9,360.4 493.7,358.6 494.5,358.4 495.3,361.6 496.1,361.6 496.9,359.3 497.7,363.6 498.5,362.2 499.3,360.5 500.1,356.2 500.9,363.0 501.7,359.8 502.5,348.6 503.3,350.5 504.1,348.7 504.9,349.9 505.7,346.5 506.5,336.0 507.3,333.6 508.1,330.5 508.9,319.0 509.7,321.4 510.5,313.5 511.3,311.6 512.1,308.9 512.9,302.8 513.7,302.0 514.5,303.9 515.3,302.8 516.1,301.5 516.9,304.0 517.7,299.9 518.5,300.0 519.3,305.1 520.1,307.8 520.9,310.5 521.7,317.8 522.5,318.6 523.3,324.2 524.1,324.0 524.9,323.4 525.7,328.2 526.5,323.2 527.3,323.1 528.1,317.7 528.9,318.2 529.7,316.8 530.5,317.4 531.3,321.6 532.1,322.6 532.9,315.7 533.7,312.9 534.5,315.7 535.3,313.8 536.1,312.4 536.9,315.4 537.7,316.4 538.5,318.8 539.3,327.5 540.1,325.0 540.9,329.0 541.7,336.2 542.5,336.3 543.3,339.0 544.1,343.9 544.9,351.7 545.7,355.5 546.5,359.2 547.3,360.8 548.1,361.5 548.9,367.6 549.7,360.9 550.5,364.0 551.3,361.3 552.1,364.0 552.9,365.1 553.7,368.2 554.5,356.6 555.3,368.2 556.1,362.4 556.9,365.2 557.7,366.3 558.5,361.8 559.3,365.0 560.1,366.2 560.9,364.5 561.7,363.0 562.5,365.5 563.3,365.6 564.1,361.0 564.9,368.5 565.7,365.1 566.5,358.3 567.3,362.7 568.1,369.3 568.9,368.3 569.7,364.6 570.5,358.2 571.3,361.9 572.1,365.3 572.9,363.4 573.7,362.4 574.5,360.9 575.3,365.0 576.1,361.8 576.9,364.6 577.7,364.2 578.5,367.0 579.3,363.3 580.1,364.8 580.9,358.9 581.7,369.0 582.5,367.7 583.3,365.3 584.1,359.3 584.9,363.4 585.7,364.8 586.5,369.8 587.3,365.4 588.1,365.0 588.9,365.4 589.7,367.4 590.5,360.5 591.3,360.9 592.1,360.7 592.9,362.6 593.7,363.9 594.5,364.9 595.3,361.3 596.1,364.1 596.9,361.3 597.7,368.8 598.5,361.3 599.3,369.6 600.1,367.3 600.9,359.7 601.7,366.0 602.5,365.8 603.3,361.0 604.1,366.6 604.9,364.0 605.7,365.3 606.5,361.6 607.3,363.4 608.1,364.0 608.9,361.7 609.7,360.0 610.5,361.8 611.3,359.7 612.1,363.6 612.9,356.1 613.7,367.5 614.5,365.0 615.3,366.4 616.1,367.3 616.9,362.1 617.7,371.9 618.5,363.2 619.3,367.4 620.1,365.6 620.9,368.7 621.7,364.9 622.5,360.3 623.3,364.4 624.1,356.6 624.9,362.7 625.7,362.1 626.5,367.6 627.3,362.6 628.1,362.9 628.9,361.1 629.7,361.0 630.5,361.9 631.3,366.1 632.1,361.8 632.9,364.9 633.7,360.1 634.5,364.2 635.3,364.8 636.1,360.9 636.9,362.2 637.7,362.8 638.5,364.3 639.3,365.0 640.1,362.7 640.9,360.2 641.7,359.0 642.5,364.9 643.3,366.7 644.1,363.6 644.9,367.0 645.7,360.6 646.5,360.3 647.3,366.1 648.1,359.6 648.9,363.7 649.7,363.3 650.5,363.9 651.3,369.1 652.1,361.7 652.9,362.1 653.7,357.6 654.5,361.1 655.3,361.8 656.1,360.7 656.9,360.8 657.7,361.8 658.5,359.1 659.3,355.5 660.1,361.8 660.9,363.9 661.7,359.9 662.5,361.1 663.3,369.3 664.1,367.9 664.9,368.1 665.7,366.2 666.5,364.5 667.3,363.2 668.1,366.1 668.9,363.9 669.7,363.5 670.5,364.5 671.3,364.3 672.1,366.2 672.9,360.8 673.7,370.8 674.5,360.6 675.3,362.3 676.1,366.0 676.9,361.6 677.7,363.0 678.5,364.9 679.3,355.9 680.1,363.7 680.9,361.5 681.7,363.1 682.5,364.8 683.3,365.2 684.1,367.7 684.9,367.6 685.7,365.7 686.5,363.8 687.3,367.5 688.1,361.8 688.9,364.1 689.7,366.8 690.5,365.4 691.3,359.9 692.1,360.9 692.9,364.5 693.7,364.1 694.5,365.8 695.3,358.5 696.1,360.0 696.9,362.2 697.7,360.2 698.5,363.8 699.3,362.9 700.1,363.3 700.9,361.9 701.7,362.9 702.5,364.2 703.3,361.6 704.1,357.7 704.9,365.8 705.7,363.5 706.5,364.4 707.3,364.1 708.1,358.0 708.9,365.8 709.7,362.0 710.5,359.4 711.3,365.6 712.1,360.3 712.9,362.3 713.7,364.9 714.5,366.0 715.3,356.6 716.1,360.0 716.9,365.0 717.7,362.4 718.5,355.5 719.3,365.3 720.1,365.1 720.9,367.0 721.7,364.9 722.5,362.9 723.3,364.7 724.1,364.0 724.9,362.2 725.7,364.8 726.5,364.4 727.3,361.7 728.1,366.7 728.9,366.1 729.7,365.3 730.5,355.2 731.3,363.4 732.1,362.6 732.9,359.6 733.7,364.7 734.5,358.6 735.3,366.8 736.1,364.0 736.9,361.5 737.7,366.5 738.5,363.6 739.3,363.4 740.1,359.0 740.9,363.9 741.7,366.6 742.5,365.1 743.3,359.3 744.1,366.5 744.9,366.1 745.7,364.0 746.5,360.2 747.3,356.8 748.1,359.0 748.9,359.7 749.7,363.2 750.5,363.5 751.3,359.3 752.1,357.4 752.9,360.8 753.7,358.1 754.5,365.0 755.3,357.0 756.1,362.9 756.9,364.6 757.7,359.4 758.5,365.8 759.3,362.7 760.1,360.5 760.9,360.5 761.7,362.2 762.5,364.2 763.3,355.7 764.1,361.5 764.9,359.2 765.7,358.0 766.5,359.4 767.3,360.5 768.1,360.6 768.9,362.9 769.7,358.9 770.5,367.0 771.3,364.3 772.1,360.0 772.9,356.1 773.7,361.7 774.5,360.9 775.3,362.7 776.1,362.0 776.9,365.9 777.7,359.9 778.5,363.9 779.3,360.1 780.1,360.1 780.9,366.2 781.7,361.9 782.5,361.1 783.3,360.9 784.1,361.4 784.9,361.9 785.7,359.1 786.5,356.2 787.3,360.2 788.1,356.7 788.9,357.2 789.7,358.3 790.5,358.2 791.3,350.3 792.1,361.1 792.9,358.3 793.7,361.8 794.5,363.4 795.3,353.7 796.1,355.2 796.9,358.5 797.7,361.8 798.5,358.0 799.3,358.0 800.1,362.1 800.9,357.9 801.7,361.4 802.5,364.0 803.3,360.1 804.1,362.5 804.9,360.9 805.7,357.1 806.5,359.2 807.3,359.4 808.1,359.1 808.9,359.4 809.7,361.0 810.5,359.5 811.3,359.8 812.1,357.7 812.9,358.3 813.7,358.3 814.5,358.5 815.3,365.0 816.1,356.2 816.9,361.3 817.7,356.5 818.5,358.7 819.3,362.7 820.1,358.4 820.9,362.5 821.7,356.7 822.5,359.2 823.3,358.2 824.1,361.4 824.9,360.6 825.7,360.5 826.5,361.8 827.3,364.6 828.1,361.8 828.9,361.6 829.7,360.2 830.5,359.6 831.3,358.2 832.1,359.9 832.9,362.0 833.7,356.6 834.5,364.4 835.3,361.2 836.1,358.4 836.9,360.6 837.7,363.4 838.5,363.7 839.3,362.5 840.1,367.0 840.9,368.0 841.7,357.9 842.5,362.8 843.3,358.4 844.1,356.4 844.9,360.2 845.7,364.8 846.5,363.0 847.3,363.4 848.1,369.1 848.9,365.8 849.7,364.1 850.5,368.4 851.3,364.1 852.1,359.4 852.9,357.6 853.7,359.1 854.5,362.0 855.3,364.3 856.1,363.9 856.9,360.8 857.7,357.4 858.5,363.4 859.3,361.1 860.1,357.6 860.9,357.4 861.7,362.3 862.5,363.2 863.3,364.4 864.1,359.7 864.9,368.6 865.7,358.5 866.5,363.2 867.3,366.9 868.1,367.1 868.9,361.8 869.7,366.0 870.5,368.1 871.3,366.3 872.1,361.3 872.9,368.2 873.7,358.8 874.5,364.1 875.3,360.1 876.1,361.8 876.9,361.3 877.7,363.8 878.5,360.2 879.3,363.2 880.1,365.9 880.9,362.6 881.7,363.7 882.5,363.8 883.3,360.6 884.1,359.5 884.9,361.1 885.7,362.0 886.5,366.6 887.3,366.4 888.1,360.5 888.9,360.2 889.7,359.0 890.5,355.8 891.3,366.0 892.1,363.3 892.9,355.9 893.7,362.0 894.5,369.6 895.3,365.4 896.1,365.2 896.9,364.0 897.7,360.8 898.5,359.0 899.3,360.3 900.1,362.3 900.9,360.4 901.7,363.1 902.5,366.8 903.3,365.9 904.1,366.4 904.9,362.3 905.7,359.3 906.5,369.0 907.3,365.3 908.1,366.2 908.9,359.8 909.7,357.2 910.5,366.6 911.3,357.8 912.1,363.3 912.9,361.3 913.7,364.1 914.5,365.9 915.3,365.0" fill="none" stroke="#0000ff" stroke-width="3.6" stroke-linejoin="miter" stroke-miterlimit="4" stroke-linecap="butt"/>
<polyline points="118.5,532.8 119.3,531.9 120.1,533.5 120.9,533.9 121.7,534.3 122.5,533.1 123.3,531.7 124.1,531.8 124.9,533.8 125.7,535.0 126.5,533.9 127.3,532.3 128.1,533.0 128.9,535.5 129.7,534.1 130.5,531.7 131.3,534.1 132.1,532.7 132.9,533.6 133.7,533.4 134.5,533.2 135.3,535.0 136.1,534.1 136.9,533.5 137.7,534.8 138.5,535.2 139.3,531.7 140.1,533.6 140.9,532.6 141.7,533.6 142.5,532.2 143.3,533.6 144.1,533.6 144.9,533.3 145.7,532.3 146.5,533.3 147.3,532.3 148.1,531.6 148.9,533.5 149.7,531.9 150.5,534.7 151.3,534.0 152.1,530.3 152.9,533.8 153.7,532.0 154.5,533.9 155.3,533.2 156.1,531.1 156.9,533.6 157.7,533.1 158.5,533.9 159.3,531.0 160.1,533.4 160.9,531.5 161.7,532.4 162.5,531.8 163.3,535.3 164.1,534.2 164.9,535.5 165.7,534.2 166.5,534.6 167.3,534.4 168.1,532.6 168.9,533.1 169.7,535.5 170.5,533.7 171.3,534.6 172.1,534.0 172.9,535.0 173.7,534.1 174.5,534.2 175.3,534.0 176.1,533.7 176.9,532.6 177.7,534.7 178.5,532.0 179.3,531.7 180.1,531.7 180.9,534.8 181.7,532.9 182.5,531.9 183.3,531.7 184.1,533.9 184.9,532.1 185.7,531.8 186.5,534.4 187.3,531.7 188.1,532.8 188.9,533.5 189.7,532.7 190.5,532.8 191.3,534.9 192.1,532.5 192.9,531.9 193.7,531.6 194.5,533.2 195.3,532.7 196.1,533.3 196.9,532.0 197.7,531.7 198.5,531.4 199.3,531.2 200.1,532.5 200.9,532.2 201.7,533.0 202.5,535.5 203.3,533.7 204.1,530.7 204.9,535.2 205.7,533.6 206.5,531.9 207.3,534.6 208.1,533.6 208.9,533.2 209.7,533.3 210.5,533.2 211.3,534.5 212.1,535.5 212.9,534.3 213.7,535.1 214.5,535.5 215.3,532.9 216.1,534.2 216.9,533.2 217.7,531.7 218.5,531.8 219.3,532.9 220.1,533.6 220.9,532.7 221.7,533.7 222.5,534.9 223.3,534.2 224.1,534.7 224.9,534.4 225.7,534.6 226.5,535.5 227.3,534.2 228.1,533.7 228.9,534.6 229.7,532.7 230.5,533.5 231.3,535.0 232.1,534.8 232.9,535.5 233.7,533.5 234.5,531.5 235.3,535.5 236.1,534.4 236.9,531.8 237.7,535.3 238.5,533.5 239.3,531.1 240.1,533.1 240.9,533.5 241.7,535.5 242.5,532.6 243.3,533.0 244.1,532.9 244.9,533.0 245.7,531.7 246.5,532.8 247.3,533.7 248.1,533.3 248.9,531.7 249.7,531.4 250.5,533.2 251.3,532.5 252.1,532.8 252.9,531.8 253.7,535.5 254.5,534.6 255.3,531.8 256.1,534.0 256.9,534.4 257.7,529.4 258.5,531.8 259.3,532.5 260.1,533.9 260.9,533.1 261.7,533.3 262.5,533.9 263.3,535.5 264.1,535.5 264.9,533.4 265.7,532.8 266.5,535.5 267.3,533.1 268.1,533.5 268.9,533.9 269.7,534.6 270.5,535.5 271.3,535.3 272.1,533.4 272.9,534.8 273.7,534.0 274.5,535.5 275.3,533.5 276.1,530.7 276.9,530.7 277.7,534.3 278.5,532.2 279.3,530.4 280.1,532.5 280.9,533.1 281.7,535.3 282.5,532.7 283.3,535.0 284.1,534.8 284.9,532.7 285.7,532.9 286.5,535.2 287.3,535.5 288.1,534.5 288.9,533.6 289.7,535.1 290.5,533.4 291.3,533.8 292.1,533.3 292.9,534.2 293.7,533.7 294.5,535.5 295.3,532.5 296.1,534.5 296.9,534.4 297.7,532.2 298.5,533.8 299.3,529.3 300.1,532.7 300.9,534.2 301.7,530.0 302.5,531.6 303.3,534.5 304.1,533.1 304.9,532.0 305.7,532.7 306.5,532.2 307.3,533.9 308.1,533.8 308.9,533.2 309.7,532.4 310.5,533.6 311.3,535.5 312.1,534.4 312.9,534.6 313.7,533.5 314.5,532.0 315.3,532.8 316.1,534.2 316.9,533.2 317.7,531.9 318.5,531.0 319.3,533.2 320.1,532.2 320.9,532.0 321.7,532.0 322.5,533.3 323.3,533.5 324.1,534.4 324.9,534.5 325.7,535.2 326.5,534.6 327.3,532.9 328.1,533.4 328.9,534.0 329.7,533.3 330.5,534.2 331.3,535.1 332.1,532.3 332.9,531.4 333.7,535.1 334.5,533.6 335.3,534.1 336.1,531.7 336.9,535.5 337.7,534.6 338.5,533.4 339.3,533.0 340.1,533.5 340.9,533.2 341.7,532.6 342.5,531.2 343.3,534.3 344.1,532.6 344.9,532.4 345.7,532.0 346.5,528.5 347.3,532.7 348.1,532.0 348.9,532.2 349.7,533.0 350.5,532.7 351.3,535.1 352.1,533.2 352.9,533.1 353.7,532.9 354.5,533.7 355.3,534.2 356.1,531.9 356.9,531.0 357.7,533.6 358.5,529.7 359.3,532.4 360.1,530.5 360.9,529.2 361.7,528.8 362.5,530.3 363.3,531.2 364.1,529.9 364.9,531.4 365.7,533.3 366.5,529.8 367.3,528.5 368.1,528.0 368.9,527.2 369.7,528.4 370.5,528.3 371.3,527.5 372.1,530.3 372.9,526.1 373.7,528.0 374.5,533.0 375.3,531.2 376.1,530.7 376.9,530.0 377.7,532.1 378.5,530.1 379.3,529.6 380.1,527.7 380.9,529.4 381.7,528.3 382.5,528.6 383.3,527.8 384.1,528.8 384.9,528.3 385.7,529.2 386.5,526.3 387.3,527.7 388.1,530.0 388.9,527.6 389.7,529.3 390.5,528.7 391.3,529.4 392.1,528.3 392.9,525.2 393.7,527.4 394.5,527.3 395.3,525.5 396.1,527.5 396.9,526.7 397.7,526.2 398.5,529.0 399.3,528.0 400.1,527.2 400.9,526.8 401.7,527.1 402.5,527.2 403.3,527.3 404.1,528.2 404.9,528.2 405.7,529.5 406.5,530.3 407.3,530.5 408.1,528.7 408.9,529.3 409.7,531.1 410.5,531.0 411.3,532.2 412.1,529.2 412.9,529.2 413.7,533.3 414.5,532.8 415.3,533.9 416.1,533.2 416.9,532.7 417.7,532.5 418.5,530.3 419.3,534.0 420.1,532.5 420.9,534.5 421.7,534.0 422.5,533.4 423.3,534.1 424.1,532.2 424.9,531.8 425.7,530.9 426.5,531.0 427.3,533.7 428.1,531.3 428.9,533.6 429.7,533.5 430.5,533.7 431.3,534.0 432.1,531.3 432.9,532.9 433.7,534.4 434.5,531.3 435.3,531.7 436.1,530.7 436.9,532.1 437.7,531.1 438.5,535.2 439.3,532.6 440.1,531.3 440.9,535.5 441.7,535.0 442.5,534.6 443.3,534.0 444.1,532.8 444.9,533.1 445.7,534.3 446.5,534.2 447.3,534.0 448.1,532.7 448.9,531.9 449.7,532.3 450.5,533.9 451.3,534.2 452.1,532.3 452.9,532.5 453.7,534.6 454.5,534.2 455.3,533.8 456.1,531.2 456.9,532.5 457.7,532.0 458.5,533.2 459.3,531.4 460.1,535.5 460.9,534.6 461.7,535.1 462.5,532.6 463.3,534.4 464.1,535.5 464.9,531.7 465.7,533.9 466.5,534.2 467.3,531.7 468.1,533.9 468.9,532.4 469.7,534.8 470.5,534.0 471.3,533.6 472.1,535.5 472.9,535.3 473.7,535.5 474.5,532.3 475.3,532.2 476.1,534.0 476.9,534.5 477.7,532.6 478.5,533.3 479.3,531.1 480.1,532.9 480.9,531.5 481.7,533.0 482.5,531.4 483.3,531.8 484.1,533.1 484.9,535.3 485.7,531.3 486.5,531.8 487.3,534.2 488.1,532.2 488.9,534.7 489.7,532.8 490.5,532.5 491.3,533.0 492.1,534.2 492.9,533.3 493.7,533.5 494.5,533.0 495.3,529.9 496.1,531.3 496.9,534.2 497.7,534.3 498.5,533.5 499.3,532.9 500.1,532.0 500.9,533.7 501.7,531.8 502.5,533.6 503.3,531.7 504.1,532.7 504.9,534.0 505.7,532.2 506.5,533.6 507.3,533.0 508.1,533.3 508.9,534.5 509.7,530.5 510.5,530.5 511.3,533.3 512.1,533.8 512.9,535.2 513.7,533.2 514.5,533.8 515.3,531.6 516.1,534.1 516.9,534.6 517.7,532.2 518.5,532.6 519.3,534.0 520.1,534.1 520.9,529.9 521.7,533.5 522.5,534.0 523.3,532.7 524.1,533.3 524.9,533.3 525.7,531.5 526.5,533.3 527.3,532.9 528.1,532.2 528.9,534.1 529.7,535.3 530.5,531.0 531.3,530.5 532.1,530.5 532.9,535.0 533.7,531.8 534.5,532.0 535.3,531.5 536.1,531.6 536.9,530.1 537.7,533.0 538.5,533.8 539.3,530.6 540.1,531.7 540.9,531.6 541.7,532.7 542.5,533.2 543.3,534.3 544.1,534.6 544.9,534.5 545.7,534.7 546.5,531.8 547.3,532.6 548.1,535.2 548.9,533.9 549.7,533.4 550.5,530.8 551.3,531.1 552.1,534.2 552.9,533.1 553.7,532.2 554.5,532.6 555.3,530.5 556.1,532.7 556.9,533.8 557.7,535.2 558.5,533.1 559.3,532.2 560.1,530.7 560.9,534.1 561.7,534.9 562.5,531.9 563.3,532.8 564.1,533.0 564.9,532.1 565.7,529.6 566.5,532.0 567.3,533.2 568.1,530.2 568.9,531.3 569.7,527.8 570.5,534.2 571.3,533.3 572.1,532.8 572.9,532.3 573.7,531.9 574.5,532.6 575.3,532.1 576.1,532.3 576.9,532.3 577.7,532.6 578.5,534.6 579.3,531.3 580.1,533.0 580.9,532.1 581.7,531.5 582.5,530.2 583.3,533.7 584.1,531.9 584.9,531.3 585.7,533.6 586.5,531.5 587.3,533.0 588.1,532.4 588.9,533.7 589.7,533.7 590.5,531.4 591.3,533.1 592.1,531.2 592.9,531.7 593.7,531.6 594.5,533.3 595.3,530.6 596.1,532.8 596.9,534.6 597.7,533.2 598.5,535.5 599.3,531.8 600.1,532.7 600.9,531.8 601.7,531.3 602.5,530.5 603.3,531.5 604.1,532.2 604.9,531.6 605.7,534.5 606.5,534.9 607.3,530.7 608.1,534.0 608.9,532.7 609.7,533.0 610.5,535.5 611.3,533.7 612.1,533.2 612.9,533.7 613.7,530.7 614.5,534.6 615.3,532.4 616.1,533.3 616.9,533.7 617.7,534.6 618.5,535.5 619.3,533.9 620.1,534.6 620.9,532.5 621.7,533.6 622.5,533.6 623.3,530.9 624.1,535.5 624.9,532.3 625.7,531.4 626.5,535.4 627.3,535.5 628.1,532.3 628.9,532.3 629.7,535.5 630.5,532.5 631.3,530.4 632.1,532.5 632.9,535.5 633.7,534.4 634.5,534.6 635.3,535.5 636.1,535.5 636.9,533.9 637.7,532.0 638.5,534.4 639.3,532.4 640.1,533.4 640.9,535.3 641.7,533.5 642.5,533.1 643.3,533.2 644.1,533.9 644.9,533.5 645.7,530.8 646.5,532.8 647.3,534.9 648.1,533.6 648.9,531.4 649.7,531.6 650.5,529.9 651.3,531.6 652.1,534.6 652.9,532.8 653.7,531.6 654.5,531.9 655.3,532.7 656.1,533.4 656.9,533.3 657.7,532.7 658.5,534.5 659.3,535.4 660.1,532.7 660.9,532.6 661.7,534.3 662.5,530.7 663.3,532.0 664.1,532.3 664.9,532.8 665.7,532.4 666.5,531.8 667.3,533.6 668.1,531.4 668.9,530.7 669.7,530.1 670.5,534.3 671.3,530.6 672.1,532.9 672.9,533.2 673.7,533.9 674.5,532.5 675.3,531.7 676.1,532.2 676.9,531.4 677.7,531.1 678.5,534.3 679.3,531.0 680.1,534.8 680.9,533.4 681.7,532.4 682.5,533.8 683.3,534.7 684.1,531.2 684.9,532.4 685.7,531.8 686.5,533.0 687.3,533.5 688.1,532.8 688.9,531.6 689.7,532.0 690.5,533.9 691.3,534.0 692.1,532.9 692.9,530.4 693.7,532.8 694.5,532.2 695.3,532.4 696.1,534.2 696.9,533.2 697.7,530.9 698.5,531.4 699.3,534.3 700.1,533.1 700.9,533.8 701.7,532.3 702.5,530.8 703.3,532.8 704.1,534.1 704.9,532.6 705.7,530.5 706.5,531.1 707.3,531.0 708.1,532.6 708.9,533.5 709.7,535.2 710.5,532.8 711.3,532.0 712.1,532.9 712.9,532.8 713.7,531.9 714.5,533.1 715.3,532.8 716.1,531.8 716.9,534.1 717.7,533.2 718.5,532.3 719.3,533.9 720.1,532.0 720.9,534.8 721.7,532.8 722.5,531.9 723.3,530.6 724.1,531.2 724.9,533.5 725.7,531.9 726.5,534.1 727.3,530.2 728.1,533.7 728.9,534.7 729.7,533.9 730.5,532.8 731.3,533.3 732.1,530.7 732.9,531.1 733.7,532.4 734.5,533.7 735.3,532.8 736.1,532.3 736.9,533.6 737.7,533.3 738.5,530.5 739.3,528.6 740.1,530.8 740.9,530.4 741.7,531.4 742.5,530.6 743.3,532.0 744.1,533.7 744.9,533.1 745.7,532.9 746.5,535.1 747.3,531.8 748.1,531.3 748.9,533.0 749.7,530.1 750.5,529.5 751.3,533.3 752.1,532.2 752.9,533.1 753.7,533.4 754.5,533.4 755.3,530.5 756.1,529.4 756.9,526.2 757.7,525.8 758.5,524.1 759.3,521.4 760.1,520.2 760.9,520.6 761.7,511.3 762.5,511.3 763.3,507.4 764.1,503.1 764.9,494.4 765.7,492.3 766.5,484.7 767.3,476.4 768.1,468.8 768.9,459.7 769.7,447.5 770.5,433.5 771.3,424.8 772.1,409.7 772.9,404.9 773.7,395.5 774.5,392.1 775.3,385.1 776.1,379.7 776.9,378.6 777.7,387.4 778.5,395.8 779.3,404.2 780.1,409.6 780.9,411.2 781.7,422.3 782.5,433.8 783.3,443.9 784.1,453.7 784.9,462.1 785.7,466.3 786.5,469.5 787.3,470.4 788.1,476.8 788.9,476.9 789.7,482.7 790.5,486.2 791.3,484.7 792.1,487.5 792.9,486.3 793.7,488.7 794.5,483.2 795.3,474.8 796.1,475.0 796.9,471.2 797.7,466.8 798.5,463.4 799.3,460.2 800.1,456.1 800.9,451.3 801.7,443.0 802.5,438.5 803.3,431.1 804.1,429.4 804.9,430.9 805.7,430.8 806.5,433.1 807.3,438.8 808.1,435.5 808.9,433.0 809.7,431.1 810.5,435.4 811.3,434.6 812.1,433.8 812.9,441.7 813.7,439.5 814.5,442.6 815.3,449.5 816.1,446.1 816.9,449.9 817.7,457.9 818.5,465.2 819.3,474.1 820.1,485.9 820.9,496.5 821.7,499.1 822.5,502.5 823.3,507.7 824.1,512.5 824.9,517.3 825.7,520.4 826.5,521.9 827.3,524.2 828.1,523.6 828.9,525.9 829.7,525.8 830.5,526.9 831.3,524.1 832.1,528.9 832.9,525.9 833.7,526.9 834.5,530.4 835.3,529.3 836.1,532.7 836.9,530.9 837.7,530.0 838.5,532.1 839.3,531.6 840.1,534.2 840.9,534.4 841.7,533.6 842.5,531.8 843.3,532.1 844.1,533.4 844.9,530.8 845.7,530.8 846.5,533.2 847.3,533.1 848.1,531.3 848.9,531.4 849.7,529.2 850.5,533.1 851.3,531.5 852.1,529.5 852.9,529.5 853.7,530.4 854.5,533.8 855.3,532.2 856.1,530.2 856.9,534.0 857.7,533.3 858.5,530.6 859.3,528.6 860.1,533.8 860.9,531.9 861.7,531.9 862.5,531.6 863.3,534.2 864.1,534.1 864.9,533.4 865.7,531.8 866.5,532.0 867.3,532.7 868.1,530.1 868.9,534.1 869.7,531.9 870.5,532.2 871.3,532.5 872.1,533.3 872.9,533.6 873.7,534.9 874.5,531.1 875.3,531.0 876.1,532.7 876.9,531.5 877.7,533.5 878.5,531.3 879.3,532.7 880.1,534.0 880.9,534.0 881.7,533.3 882.5,535.2 883.3,535.1 884.1,531.2 884.9,533.7 885.7,532.9 886.5,532.0 887.3,531.0 888.1,531.8 888.9,532.3 889.7,532.3 890.5,534.4 891.3,534.0 892.1,531.8 892.9,532.3 893.7,534.3 894.5,532.3 895.3,533.3 896.1,533.1 896.9,533.8 897.7,533.2 898.5,534.1 899.3,532.4 900.1,533.9 900.9,532.0 901.7,533.1 902.5,532.8 903.3,531.4 904.1,529.4 904.9,533.5 905.7,532.7 906.5,532.5 907.3,531.4 908.1,532.2 908.9,533.6 909.7,532.5 910.5,533.9 911.3,532.9 912.1,531.8 912.9,533.5 913.7,532.6 914.5,533.4 915.3,531.0" fill="none" stroke="#ff0000" stroke-width="3.6" stroke-linejoin="miter" stroke-miterlimit="4" stroke-linecap="butt"/>
<polyline points="118.5,533.4 119.3,535.5 120.1,528.4 120.9,532.6 121.7,534.0 122.5,535.0 123.3,534.8 124.1,535.5 124.9,534.6 125.7,534.5 126.5,533.7 127.3,532.0 128.1,532.0 128.9,533.5 129.7,531.0 130.5,533.6 131.3,533.8 132.1,534.6 132.9,531.1 133.7,533.1 134.5,529.5 135.3,529.9 136.1,531.7 136.9,532.6 137.7,529.3 138.5,529.1 139.3,532.7 140.1,530.1 140.9,533.6 141.7,532.3 142.5,531.8 143.3,532.6 144.1,534.4 144.9,532.8 145.7,535.1 146.5,533.2 147.3,534.0 148.1,533.3 148.9,534.2 149.7,533.5 150.5,532.0 151.3,535.5 152.1,532.6 152.9,532.7 153.7,533.9 154.5,535.5 155.3,532.7 156.1,534.0 156.9,533.6 157.7,530.2 158.5,533.8 159.3,533.5 160.1,531.3 160.9,531.2 161.7,528.7 162.5,528.4 163.3,531.0 164.1,532.5 164.9,530.7 165.7,532.0 166.5,533.9 167.3,532.7 168.1,532.5 168.9,533.7 169.7,529.5 170.5,533.3 171.3,529.3 172.1,532.2 172.9,532.1 173.7,531.7 174.5,530.4 175.3,531.4 176.1,530.3 176.9,530.7 177.7,529.7 178.5,531.5 179.3,528.7 180.1,530.0 180.9,530.4 181.7,533.6 182.5,529.5 183.3,531.3 184.1,533.7 184.9,531.0 185.7,530.0 186.5,533.2 187.3,532.6 188.1,534.2 188.9,531.3 189.7,533.0 190.5,533.3 191.3,533.9 192.1,529.9 192.9,533.3 193.7,529.7 194.5,528.8 195.3,529.7 196.1,531.4 196.9,530.2 197.7,531.6 198.5,531.7 199.3,531.3 200.1,529.8 200.9,533.6 201.7,527.3 202.5,528.7 203.3,530.4 204.1,530.0 204.9,527.7 205.7,530.9 206.5,530.9 207.3,528.0 208.1,533.6 208.9,534.8 209.7,533.9 210.5,532.0 211.3,533.0 212.1,530.9 212.9,532.6 213.7,530.9 214.5,532.1 215.3,531.1 216.1,532.8 216.9,532.5 217.7,533.3 218.5,529.3 219.3,528.6 220.1,532.2 220.9,530.9 221.7,532.5 222.5,532.4 223.3,531.9 224.1,533.3 224.9,532.9 225.7,532.4 226.5,530.1 227.3,534.1 228.1,531.2 228.9,532.9 229.7,531.8 230.5,533.8 231.3,531.9 232.1,531.8 232.9,531.8 233.7,531.1 234.5,531.6 235.3,531.8 236.1,531.2 236.9,530.4 237.7,535.5 238.5,529.8 239.3,530.1 240.1,535.2 240.9,530.5 241.7,532.9 242.5,532.9 243.3,531.8 244.1,530.1 244.9,530.3 245.7,531.9 246.5,532.4 247.3,528.6 248.1,532.3 248.9,530.7 249.7,533.7 250.5,532.3 251.3,530.5 252.1,531.5 252.9,532.1 253.7,534.2 254.5,535.5 255.3,532.5 256.1,532.4 256.9,533.9 257.7,532.7 258.5,533.7 259.3,533.9 260.1,533.4 260.9,531.9 261.7,533.6 262.5,534.9 263.3,533.3 264.1,535.5 264.9,533.8 265.7,531.8 266.5,534.7 267.3,530.1 268.1,533.6 268.9,535.3 269.7,532.0 270.5,532.2 271.3,534.5 272.1,534.8 272.9,533.3 273.7,532.8 274.5,534.0 275.3,532.4 276.1,530.0 276.9,531.3 277.7,532.1 278.5,528.8 279.3,531.6 280.1,529.4 280.9,532.0 281.7,528.9 282.5,530.4 283.3,529.2 284.1,534.0 284.9,534.8 285.7,535.3 286.5,535.2 287.3,534.1 288.1,534.1 288.9,529.7 289.7,533.2 290.5,531.7 291.3,531.5 292.1,530.3 292.9,534.5 293.7,531.7 294.5,529.8 295.3,533.3 296.1,532.0 296.9,530.1 297.7,532.0 298.5,531.0 299.3,529.1 300.1,529.9 300.9,532.8 301.7,532.8 302.5,532.7 303.3,529.5 304.1,529.8 304.9,530.8 305.7,532.2 306.5,529.5 307.3,528.9 308.1,532.9 308.9,532.2 309.7,531.7 310.5,531.1 311.3,530.9 312.1,535.3 312.9,534.4 313.7,531.8 314.5,530.0 315.3,535.0 316.1,534.5 316.9,534.2 317.7,533.1 318.5,528.2 319.3,529.4 320.1,532.6 320.9,531.5 321.7,532.6 322.5,531.1 323.3,531.0 324.1,533.2 324.9,531.5 325.7,532.0 326.5,531.9 327.3,532.3 328.1,534.1 328.9,534.5 329.7,530.0 330.5,532.2 331.3,531.3 332.1,533.6 332.9,530.0 333.7,533.2 334.5,532.5 335.3,532.9 336.1,530.6 336.9,531.7 337.7,530.8 338.5,533.6 339.3,533.9 340.1,530.3 340.9,530.8 341.7,531.5 342.5,531.1 343.3,534.1 344.1,531.2 344.9,532.1 345.7,530.1 346.5,534.4 347.3,532.2 348.1,532.6 348.9,531.0 349.7,526.9 350.5,527.1 351.3,526.9 352.1,529.3 352.9,527.0 353.7,527.9 354.5,526.8 355.3,526.2 356.1,526.6 356.9,523.7 357.7,519.5 358.5,519.7 359.3,522.7 360.1,516.9 360.9,519.6 361.7,519.0 362.5,513.9 363.3,513.9 364.1,509.0 364.9,510.7 365.7,505.3 366.5,501.2 367.3,499.1 368.1,494.5 368.9,490.8 369.7,489.2 370.5,484.2 371.3,479.3 372.1,478.6 372.9,477.9 373.7,470.5 374.5,465.7 375.3,463.0 376.1,466.8 376.9,464.2 377.7,464.3 378.5,459.1 379.3,460.5 380.1,460.3 380.9,464.7 381.7,460.1 382.5,454.9 383.3,459.5 384.1,458.4 384.9,455.3 385.7,441.2 386.5,444.1 387.3,441.9 388.1,436.6 388.9,431.0 389.7,423.7 390.5,424.9 391.3,425.3 392.1,425.4 392.9,424.8 393.7,422.1 394.5,424.8 395.3,420.2 396.1,421.7 396.9,423.5 397.7,426.5 398.5,425.8 399.3,430.9 400.1,429.5 400.9,428.7 401.7,434.1 402.5,437.7 403.3,444.9 404.1,452.6 404.9,467.2 405.7,474.1 406.5,474.5 407.3,486.4 408.1,491.4 408.9,494.5 409.7,500.5 410.5,508.6 411.3,509.1 412.1,513.5 412.9,517.9 413.7,517.5 414.5,519.7 415.3,522.5 416.1,526.7 416.9,529.5 417.7,527.5 418.5,526.9 419.3,529.9 420.1,530.1 420.9,531.9 421.7,531.3 422.5,532.1 423.3,532.6 424.1,533.6 424.9,532.4 425.7,532.0 426.5,535.5 427.3,535.5 428.1,535.3 428.9,530.3 429.7,532.6 430.5,534.4 431.3,529.4 432.1,530.4 432.9,530.1 433.7,529.5 434.5,530.4 435.3,532.7 436.1,530.2 436.9,531.0 437.7,533.8 438.5,529.4 439.3,527.8 440.1,531.6 440.9,534.5 441.7,531.5 442.5,531.5 443.3,529.5 444.1,530.8 444.9,534.9 445.7,534.2 446.5,533.3 447.3,531.0 448.1,530.0 448.9,530.3 449.7,529.1 450.5,531.7 451.3,529.3 452.1,529.0 452.9,531.1 453.7,531.3 454.5,530.4 455.3,531.2 456.1,530.5 456.9,528.1 457.7,531.5 458.5,531.0 459.3,531.1 460.1,532.3 460.9,531.2 461.7,534.3 462.5,531.5 463.3,532.0 464.1,532.4 464.9,531.3 465.7,532.5 466.5,533.4 467.3,533.6 468.1,531.3 468.9,531.5 469.7,531.8 470.5,532.5 471.3,530.0 472.1,531.3 472.9,530.3 473.7,531.2 474.5,530.0 475.3,532.7 476.1,533.2 476.9,533.4 477.7,530.5 478.5,531.1 479.3,531.6 480.1,535.5 480.9,534.8 481.7,530.1 482.5,532.3 483.3,534.5 484.1,529.1 484.9,530.9 485.7,532.7 486.5,532.6 487.3,530.4 488.1,534.2 488.9,534.2 489.7,533.9 490.5,530.8 491.3,533.6 492.1,535.5 492.9,534.3 493.7,535.3 494.5,532.5 495.3,535.1 496.1,532.2 496.9,533.5 497.7,532.7 498.5,531.1 499.3,534.3 500.1,530.3 500.9,531.2 501.7,532.6 502.5,529.3 503.3,528.9 504.1,531.4 504.9,531.2 505.7,531.0 506.5,532.8 507.3,535.5 508.1,531.3 508.9,535.5 509.7,531.8 510.5,531.4 511.3,527.2 512.1,529.1 512.9,531.7 513.7,533.8 514.5,531.5 515.3,533.1 516.1,534.1 516.9,531.2 517.7,529.2 518.5,530.2 519.3,530.3 520.1,531.5 520.9,532.6 521.7,529.5 522.5,531.4 523.3,531.0 524.1,532.4 524.9,534.4 525.7,534.4 526.5,531.6 527.3,531.3 528.1,531.3 528.9,531.7 529.7,531.3 530.5,531.9 531.3,531.0 532.1,530.0 532.9,530.6 533.7,533.4 534.5,535.5 535.3,534.0 536.1,533.9 536.9,533.8 537.7,533.6 538.5,535.5 539.3,531.7 540.1,529.8 540.9,529.4 541.7,531.8 542.5,530.2 543.3,530.0 544.1,530.5 544.9,529.7 545.7,532.5 546.5,530.1 547.3,535.5 548.1,527.8 548.9,529.6 549.7,531.9 550.5,532.3 551.3,530.7 552.1,531.6 552.9,531.2 553.7,531.4 554.5,532.4 555.3,531.8 556.1,531.4 556.9,531.0 557.7,532.4 558.5,530.8 559.3,532.0 560.1,533.6 560.9,532.4 561.7,534.2 562.5,532.6 563.3,534.1 564.1,534.5 564.9,534.1 565.7,534.7 566.5,535.5 567.3,532.8 568.1,532.5 568.9,533.6 569.7,531.3 570.5,533.5 571.3,535.4 572.1,532.9 572.9,534.0 573.7,533.0 574.5,534.8 575.3,532.7 576.1,532.9 576.9,527.0 577.7,532.0 578.5,533.7 579.3,532.0 580.1,530.4 580.9,533.5 581.7,530.0 582.5,530.4 583.3,531.7 584.1,529.7 584.9,531.6 585.7,531.7 586.5,529.6 587.3,531.0 588.1,532.2 588.9,532.1 589.7,534.8 590.5,532.4 591.3,531.1 592.1,530.7 592.9,531.9 593.7,533.3 594.5,530.7 595.3,532.4 596.1,532.1 596.9,530.5 597.7,529.7 598.5,532.3 599.3,529.2 600.1,532.3 600.9,530.2 601.7,534.0 602.5,532.0 603.3,532.0 604.1,533.9 604.9,531.0 605.7,532.7 606.5,532.1 607.3,533.1 608.1,532.7 608.9,531.9 609.7,531.7 610.5,531.2 611.3,533.6 612.1,531.9 612.9,532.0 613.7,532.9 614.5,530.7 615.3,531.0 616.1,532.5 616.9,531.9 617.7,533.7 618.5,527.7 619.3,532.1 620.1,533.0 620.9,531.4 621.7,532.8 622.5,531.4 623.3,531.0 624.1,532.9 624.9,529.2 625.7,528.1 626.5,532.9 627.3,531.8 628.1,531.4 628.9,532.4 629.7,532.7 630.5,531.2 631.3,532.8 632.1,532.2 632.9,530.2 633.7,532.2 634.5,532.5 635.3,531.3 636.1,533.8 636.9,531.9 637.7,533.5 638.5,534.7 639.3,530.3 640.1,530.2 640.9,533.6 641.7,532.4 642.5,533.3 643.3,535.2 644.1,531.3 644.9,533.1 645.7,531.3 646.5,530.4 647.3,532.2 648.1,531.9 648.9,533.2 649.7,531.8 650.5,532.7 651.3,532.4 652.1,528.4 652.9,530.9 653.7,531.0 654.5,533.0 655.3,530.2 656.1,531.9 656.9,530.5 657.7,528.1 658.5,530.7 659.3,532.1 660.1,530.9 660.9,533.0 661.7,531.7 662.5,531.7 663.3,530.8 664.1,531.6 664.9,532.2 665.7,531.0 666.5,528.4 667.3,530.3 668.1,531.5 668.9,532.7 669.7,532.6 670.5,529.4 671.3,532.6 672.1,529.2 672.9,531.2 673.7,530.9 674.5,534.4 675.3,533.0 676.1,532.2 676.9,530.9 677.7,534.1 678.5,531.6 679.3,533.0 680.1,534.0 680.9,531.5 681.7,533.1 682.5,529.1 683.3,532.9 684.1,529.5 684.9,532.7 685.7,532.5 686.5,532.4 687.3,535.1 688.1,527.1 688.9,532.0 689.7,530.7 690.5,532.4 691.3,531.8 692.1,531.7 692.9,531.1 693.7,530.8 694.5,532.9 695.3,530.1 696.1,534.4 696.9,532.0 697.7,534.1 698.5,531.9 699.3,534.5 700.1,532.9 700.9,534.6 701.7,535.0 702.5,531.7 703.3,532.1 704.1,531.8 704.9,533.1 705.7,528.8 706.5,531.8 707.3,531.8 708.1,530.3 708.9,532.1 709.7,532.0 710.5,535.4 711.3,531.9 712.1,534.9 712.9,532.1 713.7,533.9 714.5,529.9 715.3,531.2 716.1,532.8 716.9,531.2 717.7,530.4 718.5,532.8 719.3,534.0 720.1,532.7 720.9,532.6 721.7,533.9 722.5,533.3 723.3,535.5 724.1,535.5 724.9,532.0 725.7,535.5 726.5,535.1 727.3,534.5 728.1,534.1 728.9,534.8 729.7,535.5 730.5,535.1 731.3,532.6 732.1,535.2 732.9,529.9 733.7,534.2 734.5,534.4 735.3,534.3 736.1,531.3 736.9,534.7 737.7,533.7 738.5,531.8 739.3,530.0 740.1,532.1 740.9,530.3 741.7,529.0 742.5,530.1 743.3,535.5 744.1,529.9 744.9,531.5 745.7,532.8 746.5,534.1 747.3,531.3 748.1,530.9 748.9,533.9 749.7,532.8 750.5,534.8 751.3,530.6 752.1,532.2 752.9,533.9 753.7,532.8 754.5,530.5 755.3,532.6 756.1,528.6 756.9,530.4 757.7,532.7 758.5,533.3 759.3,533.2 760.1,533.5 760.9,529.4 761.7,530.4 762.5,532.9 763.3,535.3 764.1,531.5 764.9,528.9 765.7,528.5 766.5,532.1 767.3,532.6 768.1,528.6 768.9,530.3 769.7,532.2 770.5,532.3 771.3,529.3 772.1,529.7 772.9,530.3 773.7,528.1 774.5,527.2 775.3,528.5 776.1,531.0 776.9,531.2 777.7,529.8 778.5,527.2 779.3,526.1 780.1,527.3 780.9,529.2 781.7,530.7 782.5,527.4 783.3,529.5 784.1,525.7 784.9,524.4 785.7,528.0 786.5,526.1 787.3,526.7 788.1,524.0 788.9,529.0 789.7,525.0 790.5,528.2 791.3,525.2 792.1,527.2 792.9,530.2 793.7,528.9 794.5,528.7 795.3,529.7 796.1,529.4 796.9,531.5 797.7,526.7 798.5,530.9 799.3,529.1 800.1,527.3 800.9,529.6 801.7,529.6 802.5,528.4 803.3,529.7 804.1,526.5 804.9,525.2 805.7,526.6 806.5,529.3 807.3,528.5 808.1,527.4 808.9,526.5 809.7,527.6 810.5,529.0 811.3,526.4 812.1,526.5 812.9,528.1 813.7,528.3 814.5,527.6 815.3,530.1 816.1,529.0 816.9,527.4 817.7,526.3 818.5,531.7 819.3,530.0 820.1,530.4 820.9,530.9 821.7,532.9 822.5,532.6 823.3,531.9 824.1,531.3 824.9,530.7 825.7,532.3 826.5,530.3 827.3,532.4 828.1,533.4 828.9,533.3 829.7,532.3 830.5,530.8 831.3,530.6 832.1,531.4 832.9,531.9 833.7,532.9 834.5,532.5 835.3,531.9 836.1,532.5 836.9,529.6 837.7,530.7 838.5,531.6 839.3,532.3 840.1,530.6 840.9,531.1 841.7,534.0 842.5,533.1 843.3,531.7 844.1,530.4 844.9,529.6 845.7,531.0 846.5,531.7 847.3,532.6 848.1,533.3 848.9,532.9 849.7,535.0 850.5,532.3 851.3,533.8 852.1,533.3 852.9,529.7 853.7,530.6 854.5,531.6 855.3,531.7 856.1,532.5 856.9,533.8 857.7,531.4 858.5,531.4 859.3,532.3 860.1,530.0 860.9,533.0 861.7,531.6 862.5,533.2 863.3,532.0 864.1,531.9 864.9,535.5 865.7,534.4 866.5,535.5 867.3,532.5 868.1,532.2 868.9,531.8 869.7,533.2 870.5,530.1 871.3,533.0 872.1,531.3 872.9,529.9 873.7,528.9 874.5,530.4 875.3,531.2 876.1,532.5 876.9,529.8 877.7,532.7 878.5,533.2 879.3,535.5 880.1,532.7 880.9,533.4 881.7,530.1 882.5,531.6 883.3,530.5 884.1,530.9 884.9,533.5 885.7,532.2 886.5,535.5 887.3,533.6 888.1,533.6 888.9,530.6 889.7,530.3 890.5,531.8 891.3,530.1 892.1,532.6 892.9,529.5 893.7,530.0 894.5,534.9 895.3,529.4 896.1,532.2 896.9,533.3 897.7,534.0 898.5,530.9 899.3,535.5 900.1,532.0 900.9,529.3 901.7,533.5 902.5,531.1 903.3,531.8 904.1,533.2 904.9,530.4 905.7,530.2 906.5,530.7 907.3,532.5 908.1,529.2 908.9,533.3 909.7,531.3 910.5,528.9 911.3,531.0 912.1,532.8 912.9,533.7 913.7,533.1 914.5,533.6 915.3,531.6" fill="none" stroke="#0000ff" stroke-width="3.6" stroke-linejoin="miter" stroke-miterlimit="4" stroke-linecap="butt"/>
</g>
<g shape-rendering="auto">
<rect x="118.5" y="45.0" width="795.50" height="490.90" fill="none" stroke="#000" stroke-width="2.15"/>
<line x1="118.50" y1="208.80" x2="914.00" y2="208.80" stroke="#000" stroke-width="2.6"/>
<line x1="118.50" y1="372.20" x2="914.00" y2="372.20" stroke="#000" stroke-width="2.4"/>
<line x1="118.50" y1="45.00" x2="118.50" y2="53.60" stroke="#000" stroke-width="1.6"/>
<line x1="118.50" y1="208.50" x2="118.50" y2="199.90" stroke="#000" stroke-width="1.6"/>
<line x1="118.50" y1="208.50" x2="118.50" y2="217.10" stroke="#000" stroke-width="1.6"/>
<line x1="118.50" y1="372.20" x2="118.50" y2="363.60" stroke="#000" stroke-width="1.6"/>
<line x1="118.50" y1="372.20" x2="118.50" y2="380.80" stroke="#000" stroke-width="1.6"/>
<line x1="118.50" y1="535.90" x2="118.50" y2="527.30" stroke="#000" stroke-width="1.6"/>
<line x1="158.28" y1="45.00" x2="158.28" y2="50.20" stroke="#000" stroke-width="1.6"/>
<line x1="158.28" y1="208.50" x2="158.28" y2="203.30" stroke="#000" stroke-width="1.6"/>
<line x1="158.28" y1="208.50" x2="158.28" y2="213.70" stroke="#000" stroke-width="1.6"/>
<line x1="158.28" y1="372.20" x2="158.28" y2="367.00" stroke="#000" stroke-width="1.6"/>
<line x1="158.28" y1="372.20" x2="158.28" y2="377.40" stroke="#000" stroke-width="1.6"/>
<line x1="158.28" y1="535.90" x2="158.28" y2="530.70" stroke="#000" stroke-width="1.6"/>
<line x1="198.05" y1="45.00" x2="198.05" y2="50.20" stroke="#000" stroke-width="1.6"/>
<line x1="198.05" y1="208.50" x2="198.05" y2="203.30" stroke="#000" stroke-width="1.6"/>
<line x1="198.05" y1="208.50" x2="198.05" y2="213.70" stroke="#000" stroke-width="1.6"/>
<line x1="198.05" y1="372.20" x2="198.05" y2="367.00" stroke="#000" stroke-width="1.6"/>
<line x1="198.05" y1="372.20" x2="198.05" y2="377.40" stroke="#000" stroke-width="1.6"/>
<line x1="198.05" y1="535.90" x2="198.05" y2="530.70" stroke="#000" stroke-width="1.6"/>
<line x1="237.82" y1="45.00" x2="237.82" y2="50.20" stroke="#000" stroke-width="1.6"/>
<line x1="237.82" y1="208.50" x2="237.82" y2="203.30" stroke="#000" stroke-width="1.6"/>
<line x1="237.82" y1="208.50" x2="237.82" y2="213.70" stroke="#000" stroke-width="1.6"/>
<line x1="237.82" y1="372.20" x2="237.82" y2="367.00" stroke="#000" stroke-width="1.6"/>
<line x1="237.82" y1="372.20" x2="237.82" y2="377.40" stroke="#000" stroke-width="1.6"/>
<line x1="237.82" y1="535.90" x2="237.82" y2="530.70" stroke="#000" stroke-width="1.6"/>
<line x1="277.60" y1="45.00" x2="277.60" y2="50.20" stroke="#000" stroke-width="1.6"/>
<line x1="277.60" y1="208.50" x2="277.60" y2="203.30" stroke="#000" stroke-width="1.6"/>
<line x1="277.60" y1="208.50" x2="277.60" y2="213.70" stroke="#000" stroke-width="1.6"/>
<line x1="277.60" y1="372.20" x2="277.60" y2="367.00" stroke="#000" stroke-width="1.6"/>
<line x1="277.60" y1="372.20" x2="277.60" y2="377.40" stroke="#000" stroke-width="1.6"/>
<line x1="277.60" y1="535.90" x2="277.60" y2="530.70" stroke="#000" stroke-width="1.6"/>
<line x1="317.38" y1="45.00" x2="317.38" y2="53.60" stroke="#000" stroke-width="1.6"/>
<line x1="317.38" y1="208.50" x2="317.38" y2="199.90" stroke="#000" stroke-width="1.6"/>
<line x1="317.38" y1="208.50" x2="317.38" y2="217.10" stroke="#000" stroke-width="1.6"/>
<line x1="317.38" y1="372.20" x2="317.38" y2="363.60" stroke="#000" stroke-width="1.6"/>
<line x1="317.38" y1="372.20" x2="317.38" y2="380.80" stroke="#000" stroke-width="1.6"/>
<line x1="317.38" y1="535.90" x2="317.38" y2="527.30" stroke="#000" stroke-width="1.6"/>
<line x1="357.15" y1="45.00" x2="357.15" y2="50.20" stroke="#000" stroke-width="1.6"/>
<line x1="357.15" y1="208.50" x2="357.15" y2="203.30" stroke="#000" stroke-width="1.6"/>
<line x1="357.15" y1="208.50" x2="357.15" y2="213.70" stroke="#000" stroke-width="1.6"/>
<line x1="357.15" y1="372.20" x2="357.15" y2="367.00" stroke="#000" stroke-width="1.6"/>
<line x1="357.15" y1="372.20" x2="357.15" y2="377.40" stroke="#000" stroke-width="1.6"/>
<line x1="357.15" y1="535.90" x2="357.15" y2="530.70" stroke="#000" stroke-width="1.6"/>
<line x1="396.93" y1="45.00" x2="396.93" y2="50.20" stroke="#000" stroke-width="1.6"/>
<line x1="396.93" y1="208.50" x2="396.93" y2="203.30" stroke="#000" stroke-width="1.6"/>
<line x1="396.93" y1="208.50" x2="396.93" y2="213.70" stroke="#000" stroke-width="1.6"/>
<line x1="396.93" y1="372.20" x2="396.93" y2="367.00" stroke="#000" stroke-width="1.6"/>
<line x1="396.93" y1="372.20" x2="396.93" y2="377.40" stroke="#000" stroke-width="1.6"/>
<line x1="396.93" y1="535.90" x2="396.93" y2="530.70" stroke="#000" stroke-width="1.6"/>
<line x1="436.70" y1="45.00" x2="436.70" y2="50.20" stroke="#000" stroke-width="1.6"/>
<line x1="436.70" y1="208.50" x2="436.70" y2="203.30" stroke="#000" stroke-width="1.6"/>
<line x1="436.70" y1="208.50" x2="436.70" y2="213.70" stroke="#000" stroke-width="1.6"/>
<line x1="436.70" y1="372.20" x2="436.70" y2="367.00" stroke="#000" stroke-width="1.6"/>
<line x1="436.70" y1="372.20" x2="436.70" y2="377.40" stroke="#000" stroke-width="1.6"/>
<line x1="436.70" y1="535.90" x2="436.70" y2="530.70" stroke="#000" stroke-width="1.6"/>
<line x1="476.48" y1="45.00" x2="476.48" y2="50.20" stroke="#000" stroke-width="1.6"/>
<line x1="476.48" y1="208.50" x2="476.48" y2="203.30" stroke="#000" stroke-width="1.6"/>
<line x1="476.48" y1="208.50" x2="476.48" y2="213.70" stroke="#000" stroke-width="1.6"/>
<line x1="476.48" y1="372.20" x2="476.48" y2="367.00" stroke="#000" stroke-width="1.6"/>
<line x1="476.48" y1="372.20" x2="476.48" y2="377.40" stroke="#000" stroke-width="1.6"/>
<line x1="476.48" y1="535.90" x2="476.48" y2="530.70" stroke="#000" stroke-width="1.6"/>
<line x1="516.25" y1="45.00" x2="516.25" y2="53.60" stroke="#000" stroke-width="1.6"/>
<line x1="516.25" y1="208.50" x2="516.25" y2="199.90" stroke="#000" stroke-width="1.6"/>
<line x1="516.25" y1="208.50" x2="516.25" y2="217.10" stroke="#000" stroke-width="1.6"/>
<line x1="516.25" y1="372.20" x2="516.25" y2="363.60" stroke="#000" stroke-width="1.6"/>
<line x1="516.25" y1="372.20" x2="516.25" y2="380.80" stroke="#000" stroke-width="1.6"/>
<line x1="516.25" y1="535.90" x2="516.25" y2="527.30" stroke="#000" stroke-width="1.6"/>
<line x1="556.02" y1="45.00" x2="556.02" y2="50.20" stroke="#000" stroke-width="1.6"/>
<line x1="556.02" y1="208.50" x2="556.02" y2="203.30" stroke="#000" stroke-width="1.6"/>
<line x1="556.02" y1="208.50" x2="556.02" y2="213.70" stroke="#000" stroke-width="1.6"/>
<line x1="556.02" y1="372.20" x2="556.02" y2="367.00" stroke="#000" stroke-width="1.6"/>
<line x1="556.02" y1="372.20" x2="556.02" y2="377.40" stroke="#000" stroke-width="1.6"/>
<line x1="556.02" y1="535.90" x2="556.02" y2="530.70" stroke="#000" stroke-width="1.6"/>
<line x1="595.80" y1="45.00" x2="595.80" y2="50.20" stroke="#000" stroke-width="1.6"/>
<line x1="595.80" y1="208.50" x2="595.80" y2="203.30" stroke="#000" stroke-width="1.6"/>
<line x1="595.80" y1="208.50" x2="595.80" y2="213.70" stroke="#000" stroke-width="1.6"/>
<line x1="595.80" y1="372.20" x2="595.80" y2="367.00" stroke="#000" stroke-width="1.6"/>
<line x1="595.80" y1="372.20" x2="595.80" y2="377.40" stroke="#000" stroke-width="1.6"/>
<line x1="595.80" y1="535.90" x2="595.80" y2="530.70" stroke="#000" stroke-width="1.6"/>
<line x1="635.58" y1="45.00" x2="635.58" y2="50.20" stroke="#000" stroke-width="1.6"/>
<line x1="635.58" y1="208.50" x2="635.58" y2="203.30" stroke="#000" stroke-width="1.6"/>
<line x1="635.58" y1="208.50" x2="635.58" y2="213.70" stroke="#000" stroke-width="1.6"/>
<line x1="635.58" y1="372.20" x2="635.58" y2="367.00" stroke="#000" stroke-width="1.6"/>
<line x1="635.58" y1="372.20" x2="635.58" y2="377.40" stroke="#000" stroke-width="1.6"/>
<line x1="635.58" y1="535.90" x2="635.58" y2="530.70" stroke="#000" stroke-width="1.6"/>
<line x1="675.35" y1="45.00" x2="675.35" y2="50.20" stroke="#000" stroke-width="1.6"/>
<line x1="675.35" y1="208.50" x2="675.35" y2="203.30" stroke="#000" stroke-width="1.6"/>
<line x1="675.35" y1="208.50" x2="675.35" y2="213.70" stroke="#000" stroke-width="1.6"/>
<line x1="675.35" y1="372.20" x2="675.35" y2="367.00" stroke="#000" stroke-width="1.6"/>
<line x1="675.35" y1="372.20" x2="675.35" y2="377.40" stroke="#000" stroke-width="1.6"/>
<line x1="675.35" y1="535.90" x2="675.35" y2="530.70" stroke="#000" stroke-width="1.6"/>
<line x1="715.12" y1="45.00" x2="715.12" y2="53.60" stroke="#000" stroke-width="1.6"/>
<line x1="715.12" y1="208.50" x2="715.12" y2="199.90" stroke="#000" stroke-width="1.6"/>
<line x1="715.12" y1="208.50" x2="715.12" y2="217.10" stroke="#000" stroke-width="1.6"/>
<line x1="715.12" y1="372.20" x2="715.12" y2="363.60" stroke="#000" stroke-width="1.6"/>
<line x1="715.12" y1="372.20" x2="715.12" y2="380.80" stroke="#000" stroke-width="1.6"/>
<line x1="715.12" y1="535.90" x2="715.12" y2="527.30" stroke="#000" stroke-width="1.6"/>
<line x1="754.90" y1="45.00" x2="754.90" y2="50.20" stroke="#000" stroke-width="1.6"/>
<line x1="754.90" y1="208.50" x2="754.90" y2="203.30" stroke="#000" stroke-width="1.6"/>
<line x1="754.90" y1="208.50" x2="754.90" y2="213.70" stroke="#000" stroke-width="1.6"/>
<line x1="754.90" y1="372.20" x2="754.90" y2="367.00" stroke="#000" stroke-width="1.6"/>
<line x1="754.90" y1="372.20" x2="754.90" y2="377.40" stroke="#000" stroke-width="1.6"/>
<line x1="754.90" y1="535.90" x2="754.90" y2="530.70" stroke="#000" stroke-width="1.6"/>
<line x1="794.67" y1="45.00" x2="794.67" y2="50.20" stroke="#000" stroke-width="1.6"/>
<line x1="794.67" y1="208.50" x2="794.67" y2="203.30" stroke="#000" stroke-width="1.6"/>
<line x1="794.67" y1="208.50" x2="794.67" y2="213.70" stroke="#000" stroke-width="1.6"/>
<line x1="794.67" y1="372.20" x2="794.67" y2="367.00" stroke="#000" stroke-width="1.6"/>
<line x1="794.67" y1="372.20" x2="794.67" y2="377.40" stroke="#000" stroke-width="1.6"/>
<line x1="794.67" y1="535.90" x2="794.67" y2="530.70" stroke="#000" stroke-width="1.6"/>
<line x1="834.45" y1="45.00" x2="834.45" y2="50.20" stroke="#000" stroke-width="1.6"/>
<line x1="834.45" y1="208.50" x2="834.45" y2="203.30" stroke="#000" stroke-width="1.6"/>
<line x1="834.45" y1="208.50" x2="834.45" y2="213.70" stroke="#000" stroke-width="1.6"/>
<line x1="834.45" y1="372.20" x2="834.45" y2="367.00" stroke="#000" stroke-width="1.6"/>
<line x1="834.45" y1="372.20" x2="834.45" y2="377.40" stroke="#000" stroke-width="1.6"/>
<line x1="834.45" y1="535.90" x2="834.45" y2="530.70" stroke="#000" stroke-width="1.6"/>
<line x1="874.23" y1="45.00" x2="874.23" y2="50.20" stroke="#000" stroke-width="1.6"/>
<line x1="874.23" y1="208.50" x2="874.23" y2="203.30" stroke="#000" stroke-width="1.6"/>
<line x1="874.23" y1="208.50" x2="874.23" y2="213.70" stroke="#000" stroke-width="1.6"/>
<line x1="874.23" y1="372.20" x2="874.23" y2="367.00" stroke="#000" stroke-width="1.6"/>
<line x1="874.23" y1="372.20" x2="874.23" y2="377.40" stroke="#000" stroke-width="1.6"/>
<line x1="874.23" y1="535.90" x2="874.23" y2="530.70" stroke="#000" stroke-width="1.6"/>
<line x1="914.00" y1="45.00" x2="914.00" y2="53.60" stroke="#000" stroke-width="1.6"/>
<line x1="914.00" y1="208.50" x2="914.00" y2="199.90" stroke="#000" stroke-width="1.6"/>
<line x1="914.00" y1="208.50" x2="914.00" y2="217.10" stroke="#000" stroke-width="1.6"/>
<line x1="914.00" y1="372.20" x2="914.00" y2="363.60" stroke="#000" stroke-width="1.6"/>
<line x1="914.00" y1="372.20" x2="914.00" y2="380.80" stroke="#000" stroke-width="1.6"/>
<line x1="914.00" y1="535.90" x2="914.00" y2="527.30" stroke="#000" stroke-width="1.6"/>
<line x1="118.50" y1="159.45" x2="127.10" y2="159.45" stroke="#000" stroke-width="1.6"/>
<line x1="914.00" y1="159.45" x2="905.40" y2="159.45" stroke="#000" stroke-width="1.6"/>
<line x1="118.50" y1="110.40" x2="127.10" y2="110.40" stroke="#000" stroke-width="1.6"/>
<line x1="914.00" y1="110.40" x2="905.40" y2="110.40" stroke="#000" stroke-width="1.6"/>
<line x1="118.50" y1="61.35" x2="127.10" y2="61.35" stroke="#000" stroke-width="1.6"/>
<line x1="914.00" y1="61.35" x2="905.40" y2="61.35" stroke="#000" stroke-width="1.6"/>
<line x1="118.50" y1="317.63" x2="127.10" y2="317.63" stroke="#000" stroke-width="1.6"/>
<line x1="914.00" y1="317.63" x2="905.40" y2="317.63" stroke="#000" stroke-width="1.6"/>
<line x1="118.50" y1="263.07" x2="127.10" y2="263.07" stroke="#000" stroke-width="1.6"/>
<line x1="914.00" y1="263.07" x2="905.40" y2="263.07" stroke="#000" stroke-width="1.6"/>
<line x1="118.50" y1="481.33" x2="127.10" y2="481.33" stroke="#000" stroke-width="1.6"/>
<line x1="914.00" y1="481.33" x2="905.40" y2="481.33" stroke="#000" stroke-width="1.6"/>
<line x1="118.50" y1="426.77" x2="127.10" y2="426.77" stroke="#000" stroke-width="1.6"/>
<line x1="914.00" y1="426.77" x2="905.40" y2="426.77" stroke="#000" stroke-width="1.6"/>
</g>
<g>
<text x="110.0" y="175.6" font-size="37.5" text-anchor="end">0.3</text>
<text x="110.0" y="126.6" font-size="37.5" text-anchor="end">0.6</text>
<text x="110.0" y="77.5" font-size="37.5" text-anchor="end">0.9</text>
<text x="110.0" y="224.7" font-size="37.5" text-anchor="end">0.3</text>
<text x="110.0" y="333.8" font-size="37.5" text-anchor="end">0.1</text>
<text x="110.0" y="279.3" font-size="37.5" text-anchor="end">0.2</text>
<text x="110.0" y="388.4" font-size="37.5" text-anchor="end">0.6</text>
<text x="110.0" y="497.5" font-size="37.5" text-anchor="end">0.2</text>
<text x="110.0" y="443.0" font-size="37.5" text-anchor="end">0.4</text>
<text x="110.0" y="552.1" font-size="37.5" text-anchor="end">0</text>
<text x="118.5" y="26.0" font-size="37.5" text-anchor="middle">0.48</text>
<text x="118.5" y="587.0" font-size="37.5" text-anchor="middle">0.48</text>
<text x="317.4" y="26.0" font-size="37.5" text-anchor="middle">0.49</text>
<text x="317.4" y="587.0" font-size="37.5" text-anchor="middle">0.49</text>
<text x="516.2" y="26.0" font-size="37.5" text-anchor="middle">0.50</text>
<text x="516.2" y="587.0" font-size="37.5" text-anchor="middle">0.50</text>
<text x="715.1" y="26.0" font-size="37.5" text-anchor="middle">0.51</text>
<text x="715.1" y="587.0" font-size="37.5" text-anchor="middle">0.51</text>
<text x="914.0" y="26.0" font-size="37.5" text-anchor="middle">0.52</text>
<text x="914.0" y="587.0" font-size="37.5" text-anchor="middle">0.52</text>
<text x="137.5" y="89.3" font-size="39" text-anchor="start" font-style="italic">θ</text><text transform="translate(156.5,94.9) scale(1.14,1.0)" font-size="26" font-style="italic">p</text><text transform="translate(182.2,91.3) scale(1.42,0.95)" font-size="39">=</text><text x="223.5" y="89.3" font-size="39" text-anchor="start">0</text><text x="243.0" y="89.3" font-size="39" text-anchor="start">°</text>
<text x="138.8" y="254.0" font-size="39" text-anchor="start" font-style="italic">θ</text><text transform="translate(157.8,259.6) scale(1.14,1.0)" font-size="26" font-style="italic">p</text><text transform="translate(183.5,256.0) scale(1.42,0.95)" font-size="39">=</text><text x="225.3" y="254.0" font-size="39" text-anchor="start">45</text><text x="263.5" y="254.0" font-size="39" text-anchor="start">°</text>
<text x="138.8" y="418.3" font-size="39" text-anchor="start" font-style="italic">θ</text><text transform="translate(157.8,423.9) scale(1.14,1.0)" font-size="26" font-style="italic">p</text><text transform="translate(183.5,420.3) scale(1.42,0.95)" font-size="39">=</text><text x="225.3" y="418.3" font-size="39" text-anchor="start">90</text><text x="263.5" y="418.3" font-size="39" text-anchor="start">°</text>
<text transform="translate(668.0,89.3) scale(1.06,1.0)" font-size="39" font-style="italic">λ</text><text transform="translate(686.5,94.9) scale(1.14,1.0)" font-size="26" font-style="italic">p</text><text transform="translate(714.2,91.3) scale(1.42,0.95)" font-size="39">=</text><text x="755.5" y="89.3" font-size="39" text-anchor="start">0.774</text><text x="845.0" y="89.3" font-size="39" text-anchor="start" font-style="italic">μ</text><text transform="translate(863.0,89.3) scale(1.1,1.0)" font-size="39">m</text>
<text transform="translate(421.3,89.6) scale(1.12,0.95)" font-size="39">a</text>
<text transform="translate(266.0,175.0) scale(1.13,0.97)" font-size="39">e</text>
<text transform="translate(329.7,316.2) scale(1.05,0.94)" font-size="39">c</text>
<text transform="translate(514.4,281.8) scale(1.1,0.95)" font-size="39">d</text>
<text transform="translate(356.0,419.0) scale(1.09,1.02)" font-size="39">b</text>
<text transform="translate(736.8,419.0) scale(1.1,1.04)" font-size="39">f</text>
<text transform="translate(29.6,499.6) rotate(-90)" font-size="43"><tspan x="0" textLength="209" lengthAdjust="spacing">Normalized</tspan><tspan x="224.8" textLength="117.5" lengthAdjust="spacing">counts</tspan></text>
<text transform="translate(454.0,646.5) scale(1.14,1.03)" font-size="43" font-style="italic">λ</text><text transform="translate(475.0,652.5) scale(1.3,1.0)" font-size="30" font-style="italic">i</text><text transform="translate(489.8,648.0) scale(1.05,1.18)" font-size="43">(</text><text transform="translate(506.0,646.5) scale(1.17,1.0)" font-size="43" font-style="italic">μ</text><text transform="translate(529.3,646.5) scale(1.08,1.0)" font-size="43">m</text><text transform="translate(565.5,648.0) scale(1.05,1.18)" font-size="43">)</text>
</g>
</svg>
</body></html>
